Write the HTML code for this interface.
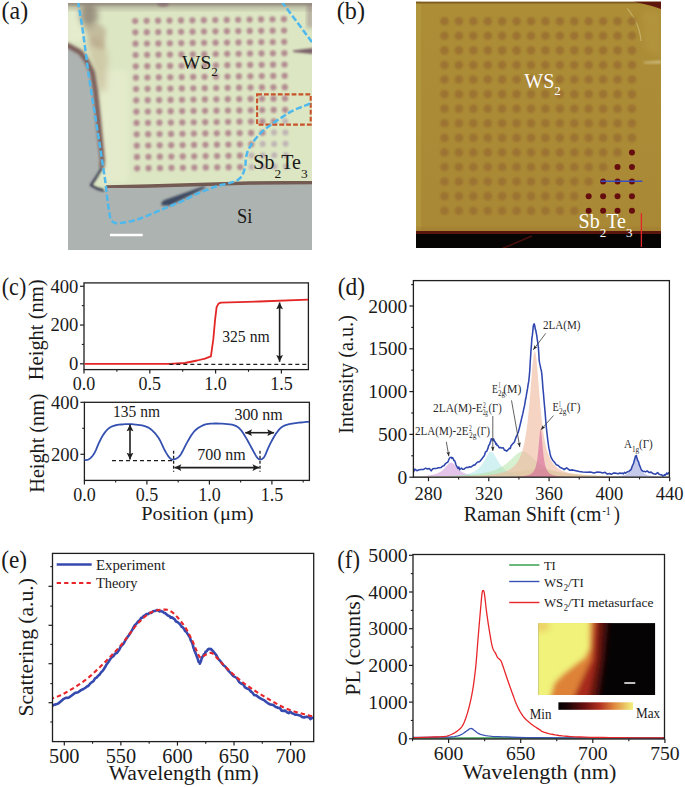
<!DOCTYPE html>
<html><head><meta charset="utf-8"><style>
html,body{margin:0;padding:0;background:#fff;}
svg{display:block;font-family:"Liberation Serif", serif;}
</style></head><body>
<svg width="685" height="787" viewBox="0 0 685 787">
<defs>
<clipPath id="clipInset"><rect x="0" y="0" width="117" height="72"/></clipPath>
<clipPath id="clipA"><rect x="68" y="3" width="244" height="247"/></clipPath>
<clipPath id="clipB"><rect x="416" y="1.5" width="245" height="246.5"/></clipPath>
<clipPath id="clipD"><rect x="413.5" y="280.6" width="256.3" height="196.7"/></clipPath>
<clipPath id="clipE"><rect x="52.6" y="553.8" width="261.1" height="187.2"/></clipPath>
<clipPath id="clipF"><rect x="412.8" y="554.3" width="251.8" height="184.7"/></clipPath>
<filter id="blur05" x="-20%" y="-20%" width="140%" height="140%"><feGaussianBlur stdDeviation="0.5"/></filter>
<filter id="blur07" x="-20%" y="-20%" width="140%" height="140%"><feGaussianBlur stdDeviation="0.7"/></filter>
<filter id="blur12" x="-20%" y="-20%" width="140%" height="140%"><feGaussianBlur stdDeviation="1.2"/></filter>
<filter id="blur1" x="-20%" y="-20%" width="140%" height="140%"><feGaussianBlur stdDeviation="1"/></filter>
<filter id="blur15" x="-20%" y="-20%" width="140%" height="140%"><feGaussianBlur stdDeviation="1.5"/></filter>
<filter id="blur2" x="-20%" y="-20%" width="140%" height="140%"><feGaussianBlur stdDeviation="2"/></filter>
<filter id="blur25" x="-30%" y="-30%" width="160%" height="160%"><feGaussianBlur stdDeviation="2.5"/></filter>
<filter id="blur3" x="-30%" y="-30%" width="160%" height="160%"><feGaussianBlur stdDeviation="3"/></filter>
<linearGradient id="insetGrad" gradientUnits="userSpaceOnUse" x1="45" y1="30" x2="82" y2="38">
<stop offset="0" stop-color="#f0ec78"/><stop offset="0.25" stop-color="#e8b050"/><stop offset="0.5" stop-color="#b83a1c"/><stop offset="0.75" stop-color="#4a0808"/><stop offset="1" stop-color="#050303"/>
</linearGradient>
<linearGradient id="bgB" x1="0" y1="0" x2="0" y2="1"><stop offset="0" stop-color="#ad8e37"/><stop offset="1" stop-color="#a98835"/></linearGradient>
<linearGradient id="cbar" x1="0" y1="0" x2="1" y2="0">
<stop offset="0" stop-color="#050202"/><stop offset="0.12" stop-color="#1a0404"/><stop offset="0.35" stop-color="#6a1010"/><stop offset="0.55" stop-color="#b03020"/><stop offset="0.75" stop-color="#e08a40"/><stop offset="1" stop-color="#f2f27e"/>
</linearGradient>
</defs>
<rect width="685" height="787" fill="#ffffff"/>
<text x="1.6" y="18.7" font-size="24.5" fill="#1a1a1a" textLength="26.6" lengthAdjust="spacingAndGlyphs">(a)</text><g clip-path="url(#clipA)"><rect x="68" y="3" width="244" height="247" fill="#adb3b0"/><path d="M60,0 L320,0 L320,182 L250,182.5 L200,184 L150,185.5 L108,186.5 L104.5,191 L98,188.5 L91.5,185 L96,177 L101.5,169 L102.2,160 L101.2,151.7 L99.2,131.4 L97.2,111 L95,90.8 L92,72.5 L86,60.3 L80,52.2 L68,45.5 L60,45Z" fill="#dce6c3" filter="url(#blur05)"/><path d="M100,70 L128,70 L128,182 L103,182 Z" fill="#e9efd2" opacity="0.6" filter="url(#blur3)"/><path d="M68,6 L80,6 L84,40 L68,42 Z" fill="#e6eed0" opacity="0.8" filter="url(#blur2)"/><path d="M86,40 L100,36 L108,55 L106,90 L99,92 L94,70 Z" fill="#c4b290" opacity="0.55" filter="url(#blur3)"/><rect x="60" y="0" width="260" height="6" fill="#8e8478" opacity="0.85" filter="url(#blur1)"/><rect x="60" y="4" width="260" height="6" fill="#a09a88" opacity="0.5" filter="url(#blur2)"/><ellipse cx="89" cy="15" rx="9" ry="12" fill="#8a7e70" opacity="0.8" filter="url(#blur3)"/><ellipse cx="163" cy="4" rx="6" ry="3" fill="#806070" opacity="0.6" filter="url(#blur1)"/><path d="M84,26 C92,22 100,22 106,30 L104,50 L92,46 Z" fill="#b09c80" opacity="0.55" filter="url(#blur2)"/><path d="M62,45 L68,45.5 L80.3,52.2 L86.4,60.3 L92.5,72.5 L95.5,90.8 L97.6,111 L99.6,131.4 L101.6,151.7 L102.4,160 L101.8,168" fill="none" stroke="#7a5c58" stroke-width="5" filter="url(#blur15)"/><path d="M106,187 L150,186 L200,184.5 L250,183 L320,182.5" fill="none" stroke="#735a52" stroke-width="3.4" filter="url(#blur07)"/><path d="M101.8,168 L96.5,177 L91,185.2 L97,188.5 L104,190.5" fill="none" stroke="#3a3c50" stroke-width="2.4" stroke-linejoin="round" filter="url(#blur1)"/><path d="M161.5,205.5 C161,202 163,200.5 166,199.5 L203,186.5 L206,187.5 L170,205.5 Z" fill="#3e4860" filter="url(#blur1)"/><path d="M293,50.5 L313,48 L313,54 L293,52 Z" fill="#6a4a5a" opacity="0.85" filter="url(#blur1)"/><rect x="307" y="4" width="6" height="24" fill="#8a7078" opacity="0.5" filter="url(#blur2)"/><g filter="url(#blur12)" fill="#985070" opacity="0.6"><circle cx="135.2" cy="21" r="3.1"/><circle cx="146.64" cy="20.86" r="3.1"/><circle cx="158.08" cy="20.72" r="3.1"/><circle cx="169.52" cy="20.58" r="3.1"/><circle cx="180.96" cy="20.44" r="3.1"/><circle cx="192.4" cy="20.3" r="3.1"/><circle cx="203.84" cy="20.16" r="3.1"/><circle cx="215.28" cy="20.02" r="3.1"/><circle cx="226.72" cy="19.88" r="3.1"/><circle cx="238.16" cy="19.74" r="3.1"/><circle cx="249.6" cy="19.6" r="3.1"/><circle cx="261.04" cy="19.46" r="3.1"/><circle cx="272.48" cy="19.32" r="3.1"/><circle cx="283.92" cy="19.18" r="3.1"/><circle cx="135.35" cy="32.33" r="3.1"/><circle cx="146.79" cy="32.19" r="3.1"/><circle cx="158.23" cy="32.05" r="3.1"/><circle cx="169.67" cy="31.91" r="3.1"/><circle cx="181.11" cy="31.77" r="3.1"/><circle cx="192.55" cy="31.63" r="3.1"/><circle cx="203.99" cy="31.49" r="3.1"/><circle cx="215.43" cy="31.35" r="3.1"/><circle cx="226.87" cy="31.21" r="3.1"/><circle cx="238.31" cy="31.07" r="3.1"/><circle cx="249.75" cy="30.93" r="3.1"/><circle cx="261.19" cy="30.79" r="3.1"/><circle cx="272.63" cy="30.65" r="3.1"/><circle cx="284.07" cy="30.51" r="3.1"/><circle cx="135.5" cy="43.66" r="3.1"/><circle cx="146.94" cy="43.52" r="3.1"/><circle cx="158.38" cy="43.38" r="3.1"/><circle cx="169.82" cy="43.24" r="3.1"/><circle cx="181.26" cy="43.1" r="3.1"/><circle cx="192.7" cy="42.96" r="3.1"/><circle cx="204.14" cy="42.82" r="3.1"/><circle cx="215.58" cy="42.68" r="3.1"/><circle cx="227.02" cy="42.54" r="3.1"/><circle cx="238.46" cy="42.4" r="3.1"/><circle cx="249.9" cy="42.26" r="3.1"/><circle cx="261.34" cy="42.12" r="3.1"/><circle cx="272.78" cy="41.98" r="3.1"/><circle cx="284.22" cy="41.84" r="3.1"/><circle cx="135.65" cy="54.99" r="3.1"/><circle cx="147.09" cy="54.85" r="3.1"/><circle cx="158.53" cy="54.71" r="3.1"/><circle cx="169.97" cy="54.57" r="3.1"/><circle cx="181.41" cy="54.43" r="3.1"/><circle cx="192.85" cy="54.29" r="3.1"/><circle cx="204.29" cy="54.15" r="3.1"/><circle cx="215.73" cy="54.01" r="3.1"/><circle cx="227.17" cy="53.87" r="3.1"/><circle cx="238.61" cy="53.73" r="3.1"/><circle cx="250.05" cy="53.59" r="3.1"/><circle cx="261.49" cy="53.45" r="3.1"/><circle cx="272.93" cy="53.31" r="3.1"/><circle cx="284.37" cy="53.17" r="3.1"/><circle cx="135.8" cy="66.32" r="3.1"/><circle cx="147.24" cy="66.18" r="3.1"/><circle cx="158.68" cy="66.04" r="3.1"/><circle cx="170.12" cy="65.9" r="3.1"/><circle cx="181.56" cy="65.76" r="3.1"/><circle cx="193" cy="65.62" r="3.1"/><circle cx="204.44" cy="65.48" r="3.1"/><circle cx="215.88" cy="65.34" r="3.1"/><circle cx="227.32" cy="65.2" r="3.1"/><circle cx="238.76" cy="65.06" r="3.1"/><circle cx="250.2" cy="64.92" r="3.1"/><circle cx="261.64" cy="64.78" r="3.1"/><circle cx="273.08" cy="64.64" r="3.1"/><circle cx="284.52" cy="64.5" r="3.1"/><circle cx="135.95" cy="77.65" r="3.1"/><circle cx="147.39" cy="77.51" r="3.1"/><circle cx="158.83" cy="77.37" r="3.1"/><circle cx="170.27" cy="77.23" r="3.1"/><circle cx="181.71" cy="77.09" r="3.1"/><circle cx="193.15" cy="76.95" r="3.1"/><circle cx="204.59" cy="76.81" r="3.1"/><circle cx="216.03" cy="76.67" r="3.1"/><circle cx="227.47" cy="76.53" r="3.1"/><circle cx="238.91" cy="76.39" r="3.1"/><circle cx="250.35" cy="76.25" r="3.1"/><circle cx="261.79" cy="76.11" r="3.1"/><circle cx="273.23" cy="75.97" r="3.1"/><circle cx="284.67" cy="75.83" r="3.1"/><circle cx="136.1" cy="88.98" r="3.1"/><circle cx="147.54" cy="88.84" r="3.1"/><circle cx="158.98" cy="88.7" r="3.1"/><circle cx="170.42" cy="88.56" r="3.1"/><circle cx="181.86" cy="88.42" r="3.1"/><circle cx="193.3" cy="88.28" r="3.1"/><circle cx="204.74" cy="88.14" r="3.1"/><circle cx="216.18" cy="88" r="3.1"/><circle cx="227.62" cy="87.86" r="3.1"/><circle cx="239.06" cy="87.72" r="3.1"/><circle cx="250.5" cy="87.58" r="3.1"/><circle cx="261.94" cy="87.44" r="3.1"/><circle cx="273.38" cy="87.3" r="3.1"/><circle cx="284.82" cy="87.16" r="3.1"/><circle cx="136.25" cy="100.31" r="3.1"/><circle cx="147.69" cy="100.17" r="3.1"/><circle cx="159.13" cy="100.03" r="3.1"/><circle cx="170.57" cy="99.89" r="3.1"/><circle cx="182.01" cy="99.75" r="3.1"/><circle cx="193.45" cy="99.61" r="3.1"/><circle cx="204.89" cy="99.47" r="3.1"/><circle cx="216.33" cy="99.33" r="3.1"/><circle cx="227.77" cy="99.19" r="3.1"/><circle cx="239.21" cy="99.05" r="3.1"/><circle cx="250.65" cy="98.91" r="3.1"/><circle cx="262.09" cy="98.77" r="3.1"/><circle cx="273.53" cy="98.63" r="3.1"/><circle cx="284.97" cy="98.49" r="3.1"/><circle cx="136.4" cy="111.64" r="3.1"/><circle cx="147.84" cy="111.5" r="3.1"/><circle cx="159.28" cy="111.36" r="3.1"/><circle cx="170.72" cy="111.22" r="3.1"/><circle cx="182.16" cy="111.08" r="3.1"/><circle cx="193.6" cy="110.94" r="3.1"/><circle cx="205.04" cy="110.8" r="3.1"/><circle cx="216.48" cy="110.66" r="3.1"/><circle cx="227.92" cy="110.52" r="3.1"/><circle cx="239.36" cy="110.38" r="3.1"/><circle cx="250.8" cy="110.24" r="3.1"/><circle cx="262.24" cy="110.1" r="3.1"/><circle cx="273.68" cy="109.96" r="3.1"/><circle cx="285.12" cy="109.82" r="3.1"/><circle cx="136.55" cy="122.97" r="3.1"/><circle cx="147.99" cy="122.83" r="3.1"/><circle cx="159.43" cy="122.69" r="3.1"/><circle cx="170.87" cy="122.55" r="3.1"/><circle cx="182.31" cy="122.41" r="3.1"/><circle cx="193.75" cy="122.27" r="3.1"/><circle cx="205.19" cy="122.13" r="3.1"/><circle cx="216.63" cy="121.99" r="3.1"/><circle cx="228.07" cy="121.85" r="3.1"/><circle cx="239.51" cy="121.71" r="3.1"/><circle cx="250.95" cy="121.57" r="3.1"/><circle cx="262.39" cy="121.43" r="3.1"/><circle cx="273.83" cy="121.29" r="3.1"/><circle cx="136.7" cy="134.3" r="3.1"/><circle cx="148.14" cy="134.16" r="3.1"/><circle cx="159.58" cy="134.02" r="3.1"/><circle cx="171.02" cy="133.88" r="3.1"/><circle cx="182.46" cy="133.74" r="3.1"/><circle cx="193.9" cy="133.6" r="3.1"/><circle cx="205.34" cy="133.46" r="3.1"/><circle cx="216.78" cy="133.32" r="3.1"/><circle cx="228.22" cy="133.18" r="3.1"/><circle cx="239.66" cy="133.04" r="3.1"/><circle cx="251.1" cy="132.9" r="3.1"/><circle cx="262.54" cy="132.76" r="3.1"/><circle cx="136.85" cy="145.63" r="3.1"/><circle cx="148.29" cy="145.49" r="3.1"/><circle cx="159.73" cy="145.35" r="3.1"/><circle cx="171.17" cy="145.21" r="3.1"/><circle cx="182.61" cy="145.07" r="3.1"/><circle cx="194.05" cy="144.93" r="3.1"/><circle cx="205.49" cy="144.79" r="3.1"/><circle cx="216.93" cy="144.65" r="3.1"/><circle cx="228.37" cy="144.51" r="3.1"/><circle cx="239.81" cy="144.37" r="3.1"/><circle cx="251.25" cy="144.23" r="3.1"/><circle cx="137" cy="156.96" r="3.1"/><circle cx="148.44" cy="156.82" r="3.1"/><circle cx="159.88" cy="156.68" r="3.1"/><circle cx="171.32" cy="156.54" r="3.1"/><circle cx="182.76" cy="156.4" r="3.1"/><circle cx="194.2" cy="156.26" r="3.1"/><circle cx="205.64" cy="156.12" r="3.1"/><circle cx="217.08" cy="155.98" r="3.1"/><circle cx="228.52" cy="155.84" r="3.1"/><circle cx="239.96" cy="155.7" r="3.1"/><circle cx="137.15" cy="168.29" r="3.1"/><circle cx="148.59" cy="168.15" r="3.1"/><circle cx="160.03" cy="168.01" r="3.1"/><circle cx="171.47" cy="167.87" r="3.1"/><circle cx="182.91" cy="167.73" r="3.1"/><circle cx="194.35" cy="167.59" r="3.1"/><circle cx="205.79" cy="167.45" r="3.1"/><circle cx="217.23" cy="167.31" r="3.1"/><circle cx="228.67" cy="167.17" r="3.1"/><circle cx="240.11" cy="167.03" r="3.1"/></g><g filter="url(#blur12)" fill="#a88aa8" opacity="0.55"><circle cx="285.27" cy="121.15" r="3.0"/><circle cx="273.98" cy="132.62" r="3.0"/><circle cx="285.42" cy="132.48" r="3.0"/><circle cx="262.69" cy="144.09" r="3.0"/><circle cx="274.13" cy="143.95" r="3.0"/><circle cx="285.57" cy="143.81" r="3.0"/><circle cx="251.4" cy="155.56" r="3.0"/><circle cx="262.84" cy="155.42" r="3.0"/><circle cx="274.28" cy="155.28" r="3.0"/><circle cx="285.72" cy="155.14" r="3.0"/><circle cx="251.55" cy="166.89" r="3.0"/><circle cx="262.99" cy="166.75" r="3.0"/><circle cx="274.43" cy="166.61" r="3.0"/><circle cx="285.87" cy="166.47" r="3.0"/></g><rect x="257.1" y="94.4" width="53.6" height="30.2" fill="none" stroke="#c8532b" stroke-width="2.1" stroke-dasharray="4.8 2.1"/><path d="M77.9,1 L78.34,3.6 L78.96,7.19 L79.68,11.44 L80.46,16.04 L81.22,20.66 L81.9,25 L82.52,29.17 L83.14,33.44 L83.74,37.75 L84.32,42 L84.87,46.11 L85.4,50 L85.89,53.68 L86.35,57.22 L86.78,60.62 L87.2,63.89 L87.6,67.01 L88,70 L88.39,72.79 L88.76,75.37 L89.11,77.81 L89.47,80.19 L89.83,82.56 L90.2,85 L90.59,87.5 L90.99,90 L91.39,92.5 L91.79,95 L92.2,97.5 L92.6,100 L93,102.5 L93.4,105 L93.81,107.5 L94.21,110 L94.61,112.5 L95,115 L95.4,117.56 L95.8,120.19 L96.19,122.81 L96.58,125.37 L96.95,127.79 L97.3,130 L97.6,131.84 L97.86,133.33 L98.11,134.69 L98.36,136.11 L98.65,137.81 L99,140 L99.44,142.84 L99.94,146.21 L100.49,149.86 L101.03,153.54 L101.55,157 L102,160 L102.38,162.5 L102.73,164.69 L103.04,166.67 L103.33,168.52 L103.61,170.33 L103.9,172.2 L104.19,174.07 L104.46,175.84 L104.73,177.59 L104.99,179.34 L105.24,181.17 L105.5,183.1 L105.75,185.17 L106,187.33 L106.24,189.56 L106.48,191.82 L106.73,194.08 L107,196.3 L107.28,198.54 L107.58,200.82 L107.88,203.11 L108.19,205.33 L108.5,207.45 L108.8,209.4 L109.09,211.21 L109.36,212.93 L109.63,214.53 L109.92,216.01 L110.24,217.34 L110.6,218.5 L111,219.47 L111.43,220.27 L111.88,220.91 L112.37,221.44 L112.91,221.9 L113.5,222.3 L114.14,222.64 L114.83,222.87 L115.56,223.03 L116.33,223.13 L117.14,223.18 L118,223.2 L118.88,223.19 L119.79,223.12 L120.73,223.01 L121.74,222.87 L122.82,222.69 L124,222.5 L125.28,222.3 L126.64,222.08 L128.09,221.84 L129.6,221.55 L131.17,221.21 L132.8,220.8 L134.48,220.32 L136.23,219.78 L138.03,219.19 L139.9,218.54 L141.82,217.84 L143.8,217.1 L145.86,216.29 L148.01,215.4 L150.21,214.46 L152.45,213.5 L154.69,212.54 L156.9,211.6 L159.1,210.68 L161.3,209.76 L163.5,208.84 L165.7,207.93 L167.9,207.01 L170.1,206.1 L172.29,205.21 L174.47,204.34 L176.66,203.47 L178.84,202.59 L181.02,201.67 L183.2,200.7 L185.41,199.64 L187.64,198.51 L189.88,197.34 L192.09,196.18 L194.24,195.09 L196.3,194.1 L198.26,193.23 L200.13,192.45 L201.94,191.73 L203.72,191.05 L205.5,190.38 L207.3,189.7 L209.12,189.01 L210.94,188.32 L212.75,187.64 L214.56,186.99 L216.38,186.37 L218.2,185.8 L220.05,185.29 L221.94,184.83 L223.84,184.41 L225.7,183.99 L227.5,183.57 L229.2,183.1 L230.83,182.62 L232.41,182.16 L233.94,181.69 L235.37,181.17 L236.7,180.58 L237.9,179.9 L238.95,179.12 L239.87,178.27 L240.69,177.35 L241.41,176.36 L242.08,175.31 L242.7,174.2 L243.27,173 L243.77,171.69 L244.21,170.32 L244.59,168.92 L244.91,167.54 L245.2,166.2 L245.41,164.91 L245.52,163.64 L245.59,162.37 L245.64,161.12 L245.73,159.86 L245.9,158.6 L246.12,157.33 L246.35,156.07 L246.62,154.8 L246.94,153.53 L247.32,152.27 L247.8,151 L248.36,149.75 L248.99,148.51 L249.68,147.28 L250.45,146.03 L251.29,144.74 L252.2,143.4 L253.19,141.98 L254.27,140.49 L255.42,138.96 L256.63,137.43 L257.89,135.93 L259.2,134.5 L260.53,133.16 L261.89,131.89 L263.29,130.64 L264.78,129.4 L266.37,128.13 L268.1,126.8 L270,125.38 L272.05,123.91 L274.21,122.4 L276.43,120.89 L278.64,119.42 L280.8,118 L282.92,116.62 L285.03,115.26 L287.15,113.92 L289.27,112.63 L291.38,111.42 L293.5,110.3 L295.68,109.28 L297.95,108.34 L300.22,107.47 L302.4,106.66 L304.42,105.91 L306.2,105.2 L307.75,104.52 L309.16,103.87 L310.39,103.28 L311.46,102.76 L312.33,102.33 L313,102" fill="none" stroke="#4fb8ec" stroke-width="2.5" stroke-dasharray="6.3 2.6"/><path d="M281.5,1.5 L297,22 L313,43.5" fill="none" stroke="#4fb8ec" stroke-width="2.5" stroke-dasharray="6.3 2.6"/><line x1="109.9" y1="235" x2="142.7" y2="235" stroke="#ffffff" stroke-width="2.4" /></g><text x="182" y="69.1" font-size="19.5" fill="#1a1a1a"><tspan dy="0">WS</tspan><tspan dy="6.5" font-size="13">2</tspan></text><text x="253.3" y="169.4" font-size="20" fill="#1a1a1a"><tspan dy="0">Sb</tspan><tspan dy="8.4" font-size="13.5">2</tspan><tspan dy="-8.4">Te</tspan><tspan dy="8.4" font-size="13.5">3</tspan></text><text x="237" y="223.1" font-size="20" fill="#1a1a1a" textLength="15.4" lengthAdjust="spacingAndGlyphs">Si</text><text x="336.8" y="18.9" font-size="24.5" fill="#1a1a1a" textLength="28.2" lengthAdjust="spacingAndGlyphs">(b)</text><g clip-path="url(#clipB)"><rect x="416" y="1.5" width="245" height="246.5" fill="url(#bgB)"/><rect x="416" y="1.5" width="5" height="246.5" fill="#b29a40" opacity="0.7"/><rect x="416" y="1.5" width="245" height="2" fill="#7d5a22"/><path d="M634,1.5 L661,1.5 L661,9 L652,6 L642,3.5 Z" fill="#5e1410" filter="url(#blur05)"/><path d="M627.5,8.5 C633,16 640,26 641,41" fill="none" stroke="#e0d8a0" stroke-width="1.1" opacity="0.5" filter="url(#blur05)"/><path d="M643,62 L661,60.5 L661,63.5 L645,63.5 Z" fill="#e8e0b8" opacity="0.55" filter="url(#blur1)"/><path d="M642,10 L661,12 L661,58 L645,50 Z" fill="#bca048" opacity="0.35" filter="url(#blur3)"/><g filter="url(#blur1)" fill="#9c7331"><circle cx="444.5" cy="21.2" r="4.3"/><circle cx="458.92" cy="21.2" r="4.3"/><circle cx="473.34" cy="21.2" r="4.3"/><circle cx="487.76" cy="21.2" r="4.3"/><circle cx="502.18" cy="21.2" r="4.3"/><circle cx="516.6" cy="21.2" r="4.3"/><circle cx="531.02" cy="21.2" r="4.3"/><circle cx="545.44" cy="21.2" r="4.3"/><circle cx="559.86" cy="21.2" r="4.3"/><circle cx="574.28" cy="21.2" r="4.3"/><circle cx="588.7" cy="21.2" r="4.3"/><circle cx="603.12" cy="21.2" r="4.3"/><circle cx="617.54" cy="21.2" r="4.3"/><circle cx="631.96" cy="21.2" r="4.3"/><circle cx="444.5" cy="35.78" r="4.3"/><circle cx="458.92" cy="35.78" r="4.3"/><circle cx="473.34" cy="35.78" r="4.3"/><circle cx="487.76" cy="35.78" r="4.3"/><circle cx="502.18" cy="35.78" r="4.3"/><circle cx="516.6" cy="35.78" r="4.3"/><circle cx="531.02" cy="35.78" r="4.3"/><circle cx="545.44" cy="35.78" r="4.3"/><circle cx="559.86" cy="35.78" r="4.3"/><circle cx="574.28" cy="35.78" r="4.3"/><circle cx="588.7" cy="35.78" r="4.3"/><circle cx="603.12" cy="35.78" r="4.3"/><circle cx="617.54" cy="35.78" r="4.3"/><circle cx="631.96" cy="35.78" r="4.3"/><circle cx="444.5" cy="50.36" r="4.3"/><circle cx="458.92" cy="50.36" r="4.3"/><circle cx="473.34" cy="50.36" r="4.3"/><circle cx="487.76" cy="50.36" r="4.3"/><circle cx="502.18" cy="50.36" r="4.3"/><circle cx="516.6" cy="50.36" r="4.3"/><circle cx="531.02" cy="50.36" r="4.3"/><circle cx="545.44" cy="50.36" r="4.3"/><circle cx="559.86" cy="50.36" r="4.3"/><circle cx="574.28" cy="50.36" r="4.3"/><circle cx="588.7" cy="50.36" r="4.3"/><circle cx="603.12" cy="50.36" r="4.3"/><circle cx="617.54" cy="50.36" r="4.3"/><circle cx="631.96" cy="50.36" r="4.3"/><circle cx="444.5" cy="64.94" r="4.3"/><circle cx="458.92" cy="64.94" r="4.3"/><circle cx="473.34" cy="64.94" r="4.3"/><circle cx="487.76" cy="64.94" r="4.3"/><circle cx="502.18" cy="64.94" r="4.3"/><circle cx="516.6" cy="64.94" r="4.3"/><circle cx="531.02" cy="64.94" r="4.3"/><circle cx="545.44" cy="64.94" r="4.3"/><circle cx="559.86" cy="64.94" r="4.3"/><circle cx="574.28" cy="64.94" r="4.3"/><circle cx="588.7" cy="64.94" r="4.3"/><circle cx="603.12" cy="64.94" r="4.3"/><circle cx="617.54" cy="64.94" r="4.3"/><circle cx="631.96" cy="64.94" r="4.3"/><circle cx="444.5" cy="79.52" r="4.3"/><circle cx="458.92" cy="79.52" r="4.3"/><circle cx="473.34" cy="79.52" r="4.3"/><circle cx="487.76" cy="79.52" r="4.3"/><circle cx="502.18" cy="79.52" r="4.3"/><circle cx="516.6" cy="79.52" r="4.3"/><circle cx="531.02" cy="79.52" r="4.3"/><circle cx="545.44" cy="79.52" r="4.3"/><circle cx="559.86" cy="79.52" r="4.3"/><circle cx="574.28" cy="79.52" r="4.3"/><circle cx="588.7" cy="79.52" r="4.3"/><circle cx="603.12" cy="79.52" r="4.3"/><circle cx="617.54" cy="79.52" r="4.3"/><circle cx="631.96" cy="79.52" r="4.3"/><circle cx="444.5" cy="94.1" r="4.3"/><circle cx="458.92" cy="94.1" r="4.3"/><circle cx="473.34" cy="94.1" r="4.3"/><circle cx="487.76" cy="94.1" r="4.3"/><circle cx="502.18" cy="94.1" r="4.3"/><circle cx="516.6" cy="94.1" r="4.3"/><circle cx="531.02" cy="94.1" r="4.3"/><circle cx="545.44" cy="94.1" r="4.3"/><circle cx="559.86" cy="94.1" r="4.3"/><circle cx="574.28" cy="94.1" r="4.3"/><circle cx="588.7" cy="94.1" r="4.3"/><circle cx="603.12" cy="94.1" r="4.3"/><circle cx="617.54" cy="94.1" r="4.3"/><circle cx="631.96" cy="94.1" r="4.3"/><circle cx="444.5" cy="108.68" r="4.3"/><circle cx="458.92" cy="108.68" r="4.3"/><circle cx="473.34" cy="108.68" r="4.3"/><circle cx="487.76" cy="108.68" r="4.3"/><circle cx="502.18" cy="108.68" r="4.3"/><circle cx="516.6" cy="108.68" r="4.3"/><circle cx="531.02" cy="108.68" r="4.3"/><circle cx="545.44" cy="108.68" r="4.3"/><circle cx="559.86" cy="108.68" r="4.3"/><circle cx="574.28" cy="108.68" r="4.3"/><circle cx="588.7" cy="108.68" r="4.3"/><circle cx="603.12" cy="108.68" r="4.3"/><circle cx="617.54" cy="108.68" r="4.3"/><circle cx="631.96" cy="108.68" r="4.3"/><circle cx="444.5" cy="123.26" r="4.3"/><circle cx="458.92" cy="123.26" r="4.3"/><circle cx="473.34" cy="123.26" r="4.3"/><circle cx="487.76" cy="123.26" r="4.3"/><circle cx="502.18" cy="123.26" r="4.3"/><circle cx="516.6" cy="123.26" r="4.3"/><circle cx="531.02" cy="123.26" r="4.3"/><circle cx="545.44" cy="123.26" r="4.3"/><circle cx="559.86" cy="123.26" r="4.3"/><circle cx="574.28" cy="123.26" r="4.3"/><circle cx="588.7" cy="123.26" r="4.3"/><circle cx="603.12" cy="123.26" r="4.3"/><circle cx="617.54" cy="123.26" r="4.3"/><circle cx="631.96" cy="123.26" r="4.3"/><circle cx="444.5" cy="137.84" r="4.3"/><circle cx="458.92" cy="137.84" r="4.3"/><circle cx="473.34" cy="137.84" r="4.3"/><circle cx="487.76" cy="137.84" r="4.3"/><circle cx="502.18" cy="137.84" r="4.3"/><circle cx="516.6" cy="137.84" r="4.3"/><circle cx="531.02" cy="137.84" r="4.3"/><circle cx="545.44" cy="137.84" r="4.3"/><circle cx="559.86" cy="137.84" r="4.3"/><circle cx="574.28" cy="137.84" r="4.3"/><circle cx="588.7" cy="137.84" r="4.3"/><circle cx="603.12" cy="137.84" r="4.3"/><circle cx="617.54" cy="137.84" r="4.3"/><circle cx="631.96" cy="137.84" r="4.3"/><circle cx="444.5" cy="152.42" r="4.3"/><circle cx="458.92" cy="152.42" r="4.3"/><circle cx="473.34" cy="152.42" r="4.3"/><circle cx="487.76" cy="152.42" r="4.3"/><circle cx="502.18" cy="152.42" r="4.3"/><circle cx="516.6" cy="152.42" r="4.3"/><circle cx="531.02" cy="152.42" r="4.3"/><circle cx="545.44" cy="152.42" r="4.3"/><circle cx="559.86" cy="152.42" r="4.3"/><circle cx="574.28" cy="152.42" r="4.3"/><circle cx="588.7" cy="152.42" r="4.3"/><circle cx="603.12" cy="152.42" r="4.3"/><circle cx="617.54" cy="152.42" r="4.3"/><circle cx="444.5" cy="167" r="4.3"/><circle cx="458.92" cy="167" r="4.3"/><circle cx="473.34" cy="167" r="4.3"/><circle cx="487.76" cy="167" r="4.3"/><circle cx="502.18" cy="167" r="4.3"/><circle cx="516.6" cy="167" r="4.3"/><circle cx="531.02" cy="167" r="4.3"/><circle cx="545.44" cy="167" r="4.3"/><circle cx="559.86" cy="167" r="4.3"/><circle cx="574.28" cy="167" r="4.3"/><circle cx="588.7" cy="167" r="4.3"/><circle cx="603.12" cy="167" r="4.3"/><circle cx="444.5" cy="181.58" r="4.3"/><circle cx="458.92" cy="181.58" r="4.3"/><circle cx="473.34" cy="181.58" r="4.3"/><circle cx="487.76" cy="181.58" r="4.3"/><circle cx="502.18" cy="181.58" r="4.3"/><circle cx="516.6" cy="181.58" r="4.3"/><circle cx="531.02" cy="181.58" r="4.3"/><circle cx="545.44" cy="181.58" r="4.3"/><circle cx="559.86" cy="181.58" r="4.3"/><circle cx="574.28" cy="181.58" r="4.3"/><circle cx="588.7" cy="181.58" r="4.3"/><circle cx="444.5" cy="196.16" r="4.3"/><circle cx="458.92" cy="196.16" r="4.3"/><circle cx="473.34" cy="196.16" r="4.3"/><circle cx="487.76" cy="196.16" r="4.3"/><circle cx="502.18" cy="196.16" r="4.3"/><circle cx="516.6" cy="196.16" r="4.3"/><circle cx="531.02" cy="196.16" r="4.3"/><circle cx="545.44" cy="196.16" r="4.3"/><circle cx="559.86" cy="196.16" r="4.3"/><circle cx="574.28" cy="196.16" r="4.3"/><circle cx="444.5" cy="210.74" r="4.3"/><circle cx="458.92" cy="210.74" r="4.3"/><circle cx="473.34" cy="210.74" r="4.3"/><circle cx="487.76" cy="210.74" r="4.3"/><circle cx="502.18" cy="210.74" r="4.3"/><circle cx="516.6" cy="210.74" r="4.3"/><circle cx="531.02" cy="210.74" r="4.3"/><circle cx="545.44" cy="210.74" r="4.3"/><circle cx="559.86" cy="210.74" r="4.3"/><circle cx="574.28" cy="210.74" r="4.3"/></g><g filter="url(#blur07)" fill="#661010"><circle cx="631.96" cy="152.42" r="3.0"/><circle cx="617.54" cy="167" r="3.0"/><circle cx="631.96" cy="167" r="3.0"/><circle cx="603.12" cy="181.58" r="3.0"/><circle cx="617.54" cy="181.58" r="3.0"/><circle cx="631.96" cy="181.58" r="3.0"/><circle cx="588.7" cy="196.16" r="3.0"/><circle cx="603.12" cy="196.16" r="3.0"/><circle cx="617.54" cy="196.16" r="3.0"/><circle cx="631.96" cy="196.16" r="3.0"/><circle cx="588.7" cy="210.74" r="3.0"/><circle cx="603.12" cy="210.74" r="3.0"/><circle cx="617.54" cy="210.74" r="3.0"/><circle cx="631.96" cy="210.74" r="3.0"/></g><rect x="416" y="227" width="245" height="5" fill="#a07a30" opacity="0.5" filter="url(#blur1)"/><rect x="416" y="233" width="245" height="16" fill="#070504"/><rect x="416" y="231" width="245" height="3" fill="#5a160c" filter="url(#blur05)"/><path d="M501,249 L532,236" stroke="#7a1812" stroke-width="1.4" opacity="0.6" filter="url(#blur05)"/><line x1="641.4" y1="213.2" x2="641.4" y2="247" stroke="#e02828" stroke-width="1.3" /><line x1="600.7" y1="181.3" x2="642.4" y2="181.3" stroke="#3a4fc0" stroke-width="1.5" /></g><text x="524.3" y="87.6" font-size="20" fill="#ffffff"><tspan dy="0">WS</tspan><tspan dy="7.4" font-size="13">2</tspan></text><text x="578.6" y="228.4" font-size="20" fill="#ffffff"><tspan dy="0">Sb</tspan><tspan dy="8.2" font-size="13">2</tspan><tspan dy="-8.2">Te</tspan><tspan dy="8.2" font-size="13">3</tspan></text><text x="1.75" y="294.8" font-size="24.5" fill="#1a1a1a" textLength="24.55" lengthAdjust="spacingAndGlyphs">(c)</text><rect x="84" y="282.9" width="224.4" height="86.7" fill="none" stroke="#1f1f1f" stroke-width="1.3"/><line x1="84" y1="369.6" x2="84" y2="373.6" stroke="#1f1f1f" stroke-width="1.2" /><text x="84" y="390.3" font-size="18" text-anchor="middle" fill="#1a1a1a" >0.0</text><line x1="149.8" y1="369.6" x2="149.8" y2="373.6" stroke="#1f1f1f" stroke-width="1.2" /><text x="149.8" y="390.3" font-size="18" text-anchor="middle" fill="#1a1a1a" >0.5</text><line x1="215.6" y1="369.6" x2="215.6" y2="373.6" stroke="#1f1f1f" stroke-width="1.2" /><text x="215.6" y="390.3" font-size="18" text-anchor="middle" fill="#1a1a1a" >1.0</text><line x1="281.4" y1="369.6" x2="281.4" y2="373.6" stroke="#1f1f1f" stroke-width="1.2" /><text x="281.4" y="390.3" font-size="18" text-anchor="middle" fill="#1a1a1a" >1.5</text><line x1="116.9" y1="369.6" x2="116.9" y2="371.8" stroke="#1f1f1f" stroke-width="1.1" /><line x1="182.7" y1="369.6" x2="182.7" y2="371.8" stroke="#1f1f1f" stroke-width="1.1" /><line x1="248.5" y1="369.6" x2="248.5" y2="371.8" stroke="#1f1f1f" stroke-width="1.1" /><line x1="80" y1="363.8" x2="84" y2="363.8" stroke="#1f1f1f" stroke-width="1.2" /><text x="78.4" y="370.1" font-size="18.6" text-anchor="end" fill="#1a1a1a" >0</text><line x1="80" y1="325.04" x2="84" y2="325.04" stroke="#1f1f1f" stroke-width="1.2" /><text x="78.4" y="331.34" font-size="18.6" text-anchor="end" fill="#1a1a1a" >200</text><line x1="80" y1="286.28" x2="84" y2="286.28" stroke="#1f1f1f" stroke-width="1.2" /><text x="78.4" y="292.58" font-size="18.6" text-anchor="end" fill="#1a1a1a" >400</text><line x1="81.8" y1="344.42" x2="84" y2="344.42" stroke="#1f1f1f" stroke-width="1.1" /><line x1="81.8" y1="305.66" x2="84" y2="305.66" stroke="#1f1f1f" stroke-width="1.1" /><text x="0" y="0" font-size="20" fill="#1a1a1a" textLength="100.69" lengthAdjust="spacingAndGlyphs" transform="translate(43,380.2) rotate(-90)">Height (nm)</text><path d="M84.6,363.9 L140,363.9 L169.9,363.8 L184.8,363 L197.2,360.5 L205,358.6 L210.9,356.3 L213.3,339.4 L215.1,319.6 L216.6,307.2 L218.5,303.6 L220.8,302.7 L259.3,301.5 L308,299.7" fill="none" stroke="#e32626" stroke-width="1.8" stroke-linejoin="round"/><line x1="169.3" y1="364.3" x2="306.4" y2="364.3" stroke="#1f1f1f" stroke-width="1.3" stroke-dasharray="4 3"/><line x1="279.6" y1="302.5" x2="279.6" y2="361.8" stroke="#1f1f1f" stroke-width="1.6" /><path d="M279.6,361.8 L276.2,355 L279.6,356.36 L283,355 Z" fill="#1f1f1f"/><path d="M279.6,302.5 L283,309.3 L279.6,307.94 L276.2,309.3 Z" fill="#1f1f1f"/><text x="222.2" y="341.7" font-size="17" fill="#1a1a1a" textLength="47.5" lengthAdjust="spacingAndGlyphs">325 nm</text><rect x="84.4" y="402.3" width="225" height="78.1" fill="none" stroke="#1f1f1f" stroke-width="1.3"/><line x1="84.4" y1="480.4" x2="84.4" y2="484.4" stroke="#1f1f1f" stroke-width="1.2" /><text x="84.4" y="501" font-size="18" text-anchor="middle" fill="#1a1a1a" >0.0</text><line x1="146.9" y1="480.4" x2="146.9" y2="484.4" stroke="#1f1f1f" stroke-width="1.2" /><text x="146.9" y="501" font-size="18" text-anchor="middle" fill="#1a1a1a" >0.5</text><line x1="209.4" y1="480.4" x2="209.4" y2="484.4" stroke="#1f1f1f" stroke-width="1.2" /><text x="209.4" y="501" font-size="18" text-anchor="middle" fill="#1a1a1a" >1.0</text><line x1="271.9" y1="480.4" x2="271.9" y2="484.4" stroke="#1f1f1f" stroke-width="1.2" /><text x="271.9" y="501" font-size="18" text-anchor="middle" fill="#1a1a1a" >1.5</text><line x1="115.65" y1="480.4" x2="115.65" y2="482.6" stroke="#1f1f1f" stroke-width="1.1" /><line x1="178.15" y1="480.4" x2="178.15" y2="482.6" stroke="#1f1f1f" stroke-width="1.1" /><line x1="240.65" y1="480.4" x2="240.65" y2="482.6" stroke="#1f1f1f" stroke-width="1.1" /><line x1="303.15" y1="480.4" x2="303.15" y2="482.6" stroke="#1f1f1f" stroke-width="1.1" /><line x1="80.4" y1="454.3" x2="84.4" y2="454.3" stroke="#1f1f1f" stroke-width="1.2" /><text x="78.8" y="460.6" font-size="18.6" text-anchor="end" fill="#1a1a1a" >200</text><line x1="80.4" y1="402.3" x2="84.4" y2="402.3" stroke="#1f1f1f" stroke-width="1.2" /><text x="78.8" y="408.6" font-size="18.6" text-anchor="end" fill="#1a1a1a" >400</text><line x1="82.2" y1="428.3" x2="84.4" y2="428.3" stroke="#1f1f1f" stroke-width="1.1" /><text x="0" y="0" font-size="20" fill="#1a1a1a" textLength="99.29" lengthAdjust="spacingAndGlyphs" transform="translate(43.5,492.7) rotate(-90)">Height (nm)</text><path d="M84.4,460.2 L84.93,460.12 L85.67,460.06 L86.54,459.96 L87.48,459.79 L88.42,459.48 L89.3,459 L90.13,458.36 L90.96,457.6 L91.79,456.72 L92.63,455.7 L93.47,454.53 L94.3,453.2 L95.13,451.63 L95.97,449.8 L96.81,447.83 L97.64,445.82 L98.47,443.87 L99.3,442.1 L100.11,440.48 L100.89,438.93 L101.67,437.44 L102.47,436.03 L103.31,434.68 L104.2,433.4 L105.13,432.18 L106.08,431.01 L107.06,429.91 L108.1,428.9 L109.21,427.99 L110.4,427.2 L111.66,426.55 L112.98,426.02 L114.36,425.59 L115.83,425.25 L117.41,424.96 L119.1,424.7 L120.95,424.48 L122.96,424.3 L125.07,424.19 L127.23,424.13 L129.39,424.13 L131.5,424.2 L133.62,424.33 L135.81,424.53 L138.01,424.78 L140.13,425.1 L142.12,425.47 L143.9,425.9 L145.43,426.36 L146.77,426.83 L147.96,427.37 L149.09,428 L150.21,428.76 L151.4,429.7 L152.65,430.81 L153.92,432.07 L155.18,433.46 L156.43,434.97 L157.64,436.59 L158.8,438.3 L159.92,440.22 L161,442.37 L162.05,444.63 L163.07,446.87 L164.05,448.97 L165,450.8 L165.92,452.4 L166.81,453.87 L167.66,455.21 L168.48,456.38 L169.26,457.38 L170,458.2 L170.65,458.82 L171.2,459.24 L171.72,459.49 L172.25,459.59 L172.86,459.56 L173.6,459.4 L174.48,459.18 L175.46,458.9 L176.51,458.47 L177.62,457.85 L178.76,456.95 L179.9,455.7 L181.07,453.98 L182.29,451.81 L183.53,449.37 L184.79,446.82 L186.05,444.34 L187.3,442.1 L188.5,440.04 L189.67,438 L190.84,436.04 L192.04,434.17 L193.32,432.45 L194.7,430.9 L196.19,429.52 L197.75,428.28 L199.39,427.17 L201.09,426.21 L202.86,425.39 L204.7,424.7 L206.6,424.18 L208.56,423.84 L210.59,423.64 L212.69,423.54 L214.86,423.5 L217.1,423.5 L219.53,423.53 L222.16,423.63 L224.86,423.79 L227.5,424.03 L229.92,424.33 L232,424.7 L233.68,425.11 L235.07,425.56 L236.24,426.08 L237.3,426.7 L238.32,427.47 L239.4,428.4 L240.5,429.53 L241.56,430.84 L242.58,432.28 L243.58,433.83 L244.58,435.45 L245.6,437.1 L246.65,438.85 L247.71,440.74 L248.77,442.7 L249.82,444.66 L250.84,446.55 L251.8,448.3 L252.72,449.97 L253.62,451.62 L254.49,453.2 L255.31,454.66 L256.08,455.94 L256.8,457 L257.43,457.82 L257.96,458.44 L258.45,458.89 L258.93,459.19 L259.43,459.35 L260,459.4 L260.63,459.38 L261.3,459.28 L261.99,459.05 L262.7,458.63 L263.44,457.96 L264.2,457 L264.97,455.64 L265.76,453.92 L266.57,451.95 L267.41,449.86 L268.29,447.77 L269.2,445.8 L270.16,443.89 L271.18,441.93 L272.22,439.96 L273.29,438.05 L274.35,436.25 L275.4,434.6 L276.42,433.1 L277.42,431.69 L278.43,430.39 L279.44,429.2 L280.5,428.13 L281.6,427.2 L282.73,426.43 L283.88,425.82 L285.06,425.33 L286.3,424.93 L287.6,424.56 L289,424.2 L290.52,423.86 L292.14,423.57 L293.84,423.32 L295.57,423.11 L297.3,422.9 L299,422.7 L300.78,422.49 L302.7,422.29 L304.62,422.11 L306.41,421.94 L307.91,421.8 L309,421.7" fill="none" stroke="#3450b0" stroke-width="1.8"/><text x="113" y="417" font-size="17" fill="#1a1a1a" textLength="47" lengthAdjust="spacingAndGlyphs">135 nm</text><line x1="130" y1="424.5" x2="130" y2="459.5" stroke="#1f1f1f" stroke-width="1.6" /><path d="M130,459.5 L126.6,452.7 L130,454.06 L133.4,452.7 Z" fill="#1f1f1f"/><path d="M130,424.5 L133.4,431.3 L130,429.94 L126.6,431.3 Z" fill="#1f1f1f"/><line x1="112" y1="460.7" x2="173" y2="460.7" stroke="#1f1f1f" stroke-width="1.3" stroke-dasharray="4 3"/><text x="234.4" y="419.7" font-size="17" fill="#1a1a1a" textLength="48.4" lengthAdjust="spacingAndGlyphs">300 nm</text><line x1="245.2" y1="432.7" x2="274.1" y2="432.7" stroke="#1f1f1f" stroke-width="1.6" /><path d="M274.1,432.7 L267.3,436.1 L268.66,432.7 L267.3,429.3 Z" fill="#1f1f1f"/><path d="M245.2,432.7 L252,429.3 L250.64,432.7 L252,436.1 Z" fill="#1f1f1f"/><text x="197.2" y="460" font-size="17" fill="#1a1a1a" textLength="48.4" lengthAdjust="spacingAndGlyphs">700 nm</text><line x1="174.5" y1="467.6" x2="259.3" y2="467.6" stroke="#1f1f1f" stroke-width="1.6" /><path d="M259.3,467.6 L252.5,471 L253.86,467.6 L252.5,464.2 Z" fill="#1f1f1f"/><path d="M174.5,467.6 L181.3,464.2 L179.94,467.6 L181.3,471 Z" fill="#1f1f1f"/><line x1="173.6" y1="450.8" x2="173.6" y2="471.8" stroke="#1f1f1f" stroke-width="1.3" stroke-dasharray="3 2"/><line x1="260" y1="450.8" x2="260" y2="471.8" stroke="#1f1f1f" stroke-width="1.3" stroke-dasharray="3 2"/><text x="141.2" y="519.7" font-size="19.5" fill="#1a1a1a" textLength="112.4" lengthAdjust="spacingAndGlyphs">Position (μm)</text><text x="337.7" y="295.4" font-size="24.5" fill="#1a1a1a" textLength="27.3" lengthAdjust="spacingAndGlyphs">(d)</text><g clip-path="url(#clipD)"><path d="M413.4,476.7 L413.77,476.7 L414.13,476.69 L414.5,476.69 L414.87,476.69 L415.23,476.69 L415.6,476.68 L415.97,476.68 L416.33,476.68 L416.7,476.67 L417.07,476.67 L417.43,476.67 L417.8,476.66 L418.17,476.66 L418.53,476.66 L418.9,476.65 L419.27,476.65 L419.63,476.65 L420,476.65 L420.37,476.64 L420.73,476.64 L421.1,476.64 L421.47,476.63 L421.83,476.63 L422.2,476.63 L422.57,476.62 L422.93,476.62 L423.3,476.62 L423.67,476.61 L424.03,476.61 L424.4,476.6 L424.77,476.6 L425.13,476.6 L425.5,476.59 L425.87,476.59 L426.23,476.59 L426.6,476.58 L426.97,476.58 L427.33,476.57 L427.7,476.57 L428.07,476.57 L428.43,476.56 L428.8,476.56 L429.17,476.55 L429.53,476.55 L429.9,476.55 L430.27,476.54 L430.63,476.54 L431,476.53 L431.37,476.53 L431.73,476.53 L432.1,476.52 L432.47,476.52 L432.83,476.51 L433.2,476.51 L433.57,476.5 L433.93,476.5 L434.3,476.49 L434.67,476.49 L435.03,476.49 L435.4,476.48 L435.77,476.48 L436.13,476.47 L436.5,476.47 L436.87,476.46 L437.23,476.46 L437.6,476.45 L437.97,476.45 L438.33,476.44 L438.7,476.44 L439.07,476.43 L439.43,476.43 L439.8,476.42 L440.17,476.42 L440.53,476.41 L440.9,476.4 L441.27,476.4 L441.63,476.39 L442,476.39 L442.37,476.38 L442.73,476.38 L443.1,476.37 L443.47,476.36 L443.83,476.36 L444.2,476.35 L444.57,476.35 L444.93,476.34 L445.3,476.33 L445.67,476.33 L446.03,476.32 L446.4,476.32 L446.77,476.31 L447.13,476.3 L447.5,476.3 L447.87,476.29 L448.23,476.28 L448.6,476.28 L448.97,476.27 L449.33,476.26 L449.7,476.26 L450.07,476.25 L450.43,476.24 L450.8,476.23 L451.17,476.23 L451.53,476.22 L451.9,476.21 L452.27,476.2 L452.63,476.2 L453,476.19 L453.37,476.18 L453.73,476.17 L454.1,476.17 L454.47,476.16 L454.83,476.15 L455.2,476.14 L455.57,476.13 L455.93,476.12 L456.3,476.12 L456.67,476.11 L457.03,476.1 L457.4,476.09 L457.77,476.08 L458.13,476.07 L458.5,476.06 L458.87,476.05 L459.23,476.04 L459.6,476.04 L459.97,476.03 L460.33,476.02 L460.7,476.01 L461.07,476 L461.43,475.99 L461.8,475.98 L462.17,475.97 L462.53,475.96 L462.9,475.95 L463.27,475.93 L463.63,475.92 L464,475.91 L464.37,475.9 L464.73,475.89 L465.1,475.88 L465.47,475.87 L465.83,475.86 L466.2,475.85 L466.57,475.83 L466.93,475.82 L467.3,475.81 L467.66,475.8 L468.03,475.79 L468.4,475.77 L468.76,475.76 L469.13,475.75 L469.5,475.73 L469.86,475.72 L470.23,475.71 L470.6,475.69 L470.96,475.68 L471.33,475.67 L471.7,475.65 L472.06,475.64 L472.43,475.62 L472.8,475.61 L473.16,475.6 L473.53,475.58 L473.9,475.57 L474.26,475.55 L474.63,475.53 L475,475.52 L475.36,475.5 L475.73,475.49 L476.1,475.47 L476.46,475.45 L476.83,475.44 L477.2,475.42 L477.56,475.4 L477.93,475.39 L478.3,475.37 L478.66,475.35 L479.03,475.33 L479.4,475.31 L479.76,475.3 L480.13,475.28 L480.5,475.26 L480.86,475.24 L481.23,475.22 L481.6,475.2 L481.96,475.18 L482.33,475.16 L482.7,475.14 L483.06,475.12 L483.43,475.1 L483.8,475.07 L484.16,475.05 L484.53,475.03 L484.9,475.01 L485.26,474.99 L485.63,474.96 L486,474.94 L486.36,474.92 L486.73,474.89 L487.1,474.87 L487.46,474.84 L487.83,474.82 L488.2,474.79 L488.56,474.77 L488.93,474.74 L489.3,474.71 L489.66,474.69 L490.03,474.66 L490.4,474.63 L490.76,474.61 L491.13,474.58 L491.5,474.55 L491.86,474.52 L492.23,474.49 L492.6,474.46 L492.96,474.43 L493.33,474.4 L493.7,474.37 L494.06,474.34 L494.43,474.31 L494.8,474.27 L495.16,474.24 L495.53,474.21 L495.9,474.17 L496.26,474.14 L496.63,474.11 L497,474.07 L497.36,474.03 L497.73,474 L498.1,473.96 L498.46,473.93 L498.83,473.89 L499.2,473.85 L499.56,473.81 L499.93,473.77 L500.3,473.73 L500.66,473.69 L501.03,473.65 L501.4,473.61 L501.76,473.57 L502.13,473.53 L502.5,473.49 L502.86,473.44 L503.23,473.4 L503.6,473.35 L503.96,473.31 L504.33,473.26 L504.7,473.22 L505.06,473.17 L505.43,473.13 L505.8,473.08 L506.16,473.03 L506.53,472.98 L506.9,472.93 L507.26,472.88 L507.63,472.83 L508,472.78 L508.36,472.73 L508.73,472.68 L509.1,472.63 L509.46,472.57 L509.83,472.52 L510.2,472.47 L510.56,472.41 L510.93,472.36 L511.3,472.3 L511.66,472.25 L512.03,472.19 L512.4,472.13 L512.76,472.08 L513.13,472.02 L513.5,471.96 L513.86,471.9 L514.23,471.84 L514.6,471.79 L514.96,471.73 L515.33,471.67 L515.7,471.61 L516.06,471.55 L516.43,471.49 L516.8,471.43 L517.16,471.36 L517.53,471.3 L517.9,471.24 L518.26,471.18 L518.63,471.12 L519,471.06 L519.36,471 L519.73,470.94 L520.1,470.88 L520.46,470.81 L520.83,470.75 L521.2,470.69 L521.56,470.63 L521.93,470.57 L522.3,470.51 L522.66,470.46 L523.03,470.4 L523.4,470.34 L523.76,470.28 L524.13,470.22 L524.5,470.17 L524.86,470.11 L525.23,470.06 L525.6,470.01 L525.96,469.95 L526.33,469.9 L526.7,469.85 L527.06,469.8 L527.43,469.75 L527.8,469.7 L528.16,469.66 L528.53,469.61 L528.9,469.57 L529.26,469.53 L529.63,469.49 L530,469.45 L530.36,469.41 L530.73,469.38 L531.1,469.34 L531.46,469.31 L531.83,469.28 L532.2,469.25 L532.56,469.23 L532.93,469.2 L533.3,469.18 L533.66,469.16 L534.03,469.14 L534.4,469.12 L534.76,469.11 L535.13,469.1 L535.5,469.09 L535.86,469.08 L536.23,469.07 L536.6,469.07 L536.96,469.07 L537.33,469.07 L537.7,469.07 L538.06,469.08 L538.43,469.08 L538.8,469.09 L539.16,469.1 L539.53,469.12 L539.9,469.13 L540.26,469.15 L540.63,469.17 L541,469.19 L541.36,469.22 L541.73,469.24 L542.1,469.27 L542.46,469.3 L542.83,469.33 L543.2,469.37 L543.56,469.4 L543.93,469.44 L544.3,469.48 L544.66,469.52 L545.03,469.56 L545.4,469.6 L545.76,469.64 L546.13,469.69 L546.5,469.74 L546.86,469.78 L547.23,469.83 L547.6,469.88 L547.96,469.94 L548.33,469.99 L548.7,470.04 L549.06,470.1 L549.43,470.15 L549.8,470.21 L550.16,470.26 L550.53,470.32 L550.9,470.38 L551.26,470.44 L551.63,470.5 L552,470.55 L552.36,470.61 L552.73,470.67 L553.1,470.73 L553.46,470.79 L553.83,470.86 L554.2,470.92 L554.56,470.98 L554.93,471.04 L555.3,471.1 L555.66,471.16 L556.03,471.22 L556.4,471.28 L556.76,471.34 L557.13,471.41 L557.5,471.47 L557.86,471.53 L558.23,471.59 L558.6,471.65 L558.96,471.71 L559.33,471.77 L559.7,471.82 L560.06,471.88 L560.43,471.94 L560.8,472 L561.16,472.06 L561.53,472.11 L561.9,472.17 L562.26,472.23 L562.63,472.28 L563,472.34 L563.36,472.39 L563.73,472.45 L564.1,472.5 L564.46,472.56 L564.83,472.61 L565.2,472.66 L565.56,472.71 L565.93,472.76 L566.3,472.82 L566.66,472.87 L567.03,472.92 L567.4,472.97 L567.76,473.01 L568.13,473.06 L568.5,473.11 L568.86,473.16 L569.23,473.2 L569.6,473.25 L569.96,473.29 L570.33,473.34 L570.7,473.38 L571.06,473.43 L571.43,473.47 L571.8,473.51 L572.16,473.56 L572.53,473.6 L572.9,473.64 L573.26,473.68 L573.63,473.72 L573.99,473.76 L574.36,473.8 L574.73,473.84 L575.09,473.88 L575.46,473.91 L575.83,473.95 L576.19,473.99 L576.56,474.02 L576.93,474.06 L577.29,474.09 L577.66,474.13 L578.03,474.16 L578.39,474.2 L578.76,474.23 L579.13,474.26 L579.49,474.3 L579.86,474.33 L580.23,474.36 L580.59,474.39 L580.96,474.42 L581.33,474.45 L581.69,474.48 L582.06,474.51 L582.43,474.54 L582.79,474.57 L583.16,474.6 L583.53,474.62 L583.89,474.65 L584.26,474.68 L584.63,474.71 L584.99,474.73 L585.36,474.76 L585.73,474.78 L586.09,474.81 L586.46,474.83 L586.83,474.86 L587.19,474.88 L587.56,474.91 L587.93,474.93 L588.29,474.96 L588.66,474.98 L589.03,475 L589.39,475.02 L589.76,475.05 L590.13,475.07 L590.49,475.09 L590.86,475.11 L591.23,475.13 L591.59,475.15 L591.96,475.17 L592.33,475.19 L592.69,475.21 L593.06,475.23 L593.43,475.25 L593.79,475.27 L594.16,475.29 L594.53,475.31 L594.89,475.33 L595.26,475.34 L595.63,475.36 L595.99,475.38 L596.36,475.4 L596.73,475.42 L597.09,475.43 L597.46,475.45 L597.83,475.47 L598.19,475.48 L598.56,475.5 L598.93,475.51 L599.29,475.53 L599.66,475.55 L600.03,475.56 L600.39,475.58 L600.76,475.59 L601.13,475.61 L601.49,475.62 L601.86,475.63 L602.23,475.65 L602.59,475.66 L602.96,475.68 L603.33,475.69 L603.69,475.7 L604.06,475.72 L604.43,475.73 L604.79,475.74 L605.16,475.76 L605.53,475.77 L605.89,475.78 L606.26,475.79 L606.63,475.81 L606.99,475.82 L607.36,475.83 L607.73,475.84 L608.09,475.85 L608.46,475.87 L608.83,475.88 L609.19,475.89 L609.56,475.9 L609.93,475.91 L610.29,475.92 L610.66,475.93 L611.03,475.94 L611.39,475.95 L611.76,475.96 L612.13,475.97 L612.49,475.98 L612.86,475.99 L613.23,476 L613.59,476.01 L613.96,476.02 L614.33,476.03 L614.69,476.04 L615.06,476.05 L615.43,476.06 L615.79,476.07 L616.16,476.08 L616.53,476.09 L616.89,476.1 L617.26,476.1 L617.63,476.11 L617.99,476.12 L618.36,476.13 L618.73,476.14 L619.09,476.15 L619.46,476.15 L619.83,476.16 L620.19,476.17 L620.56,476.18 L620.93,476.19 L621.29,476.19 L621.66,476.2 L622.03,476.21 L622.39,476.22 L622.76,476.22 L623.13,476.23 L623.49,476.24 L623.86,476.25 L624.23,476.25 L624.59,476.26 L624.96,476.27 L625.33,476.27 L625.69,476.28 L626.06,476.29 L626.43,476.29 L626.79,476.3 L627.16,476.31 L627.53,476.31 L627.89,476.32 L628.26,476.33 L628.63,476.33 L628.99,476.34 L629.36,476.34 L629.73,476.35 L630.09,476.36 L630.46,476.36 L630.83,476.37 L631.19,476.37 L631.56,476.38 L631.93,476.39 L632.29,476.39 L632.66,476.4 L633.03,476.4 L633.39,476.41 L633.76,476.41 L634.13,476.42 L634.49,476.42 L634.86,476.43 L635.23,476.43 L635.59,476.44 L635.96,476.44 L636.33,476.45 L636.69,476.45 L637.06,476.46 L637.43,476.46 L637.79,476.47 L638.16,476.47 L638.53,476.48 L638.89,476.48 L639.26,476.49 L639.63,476.49 L639.99,476.5 L640.36,476.5 L640.73,476.51 L641.09,476.51 L641.46,476.52 L641.83,476.52 L642.19,476.52 L642.56,476.53 L642.93,476.53 L643.29,476.54 L643.66,476.54 L644.03,476.55 L644.39,476.55 L644.76,476.55 L645.13,476.56 L645.49,476.56 L645.86,476.57 L646.23,476.57 L646.59,476.57 L646.96,476.58 L647.33,476.58 L647.69,476.58 L648.06,476.59 L648.43,476.59 L648.79,476.6 L649.16,476.6 L649.53,476.6 L649.89,476.61 L650.26,476.61 L650.63,476.61 L650.99,476.62 L651.36,476.62 L651.73,476.62 L652.09,476.63 L652.46,476.63 L652.83,476.63 L653.19,476.64 L653.56,476.64 L653.93,476.64 L654.29,476.65 L654.66,476.65 L655.03,476.65 L655.39,476.66 L655.76,476.66 L656.13,476.66 L656.49,476.67 L656.86,476.67 L657.23,476.67 L657.59,476.68 L657.96,476.68 L658.33,476.68 L658.69,476.68 L659.06,476.69 L659.43,476.69 L659.79,476.69 L660.16,476.7 L660.53,476.7 L660.89,476.7 L661.26,476.7 L661.63,476.71 L661.99,476.71 L662.36,476.71 L662.73,476.71 L663.09,476.72 L663.46,476.72 L663.83,476.72 L664.19,476.73 L664.56,476.73 L664.93,476.73 L665.29,476.73 L665.66,476.74 L666.03,476.74 L666.39,476.74 L666.76,476.74 L667.13,476.75 L667.49,476.75 L667.86,476.75 L668.23,476.75 L668.59,476.75 L668.96,476.76 L669.33,476.76 L669.69,476.76 L669.69,477.2 L413.4,477.2 Z" fill="rgba(205,195,130,0.45)"/><path d="M413.4,476.53 L413.77,476.52 L414.13,476.5 L414.5,476.49 L414.87,476.48 L415.23,476.46 L415.6,476.45 L415.97,476.43 L416.33,476.42 L416.7,476.4 L417.07,476.38 L417.43,476.37 L417.8,476.35 L418.17,476.33 L418.53,476.31 L418.9,476.29 L419.27,476.27 L419.63,476.25 L420,476.23 L420.37,476.21 L420.73,476.19 L421.1,476.17 L421.47,476.14 L421.83,476.12 L422.2,476.09 L422.57,476.07 L422.93,476.04 L423.3,476.01 L423.67,475.98 L424.03,475.95 L424.4,475.92 L424.77,475.89 L425.13,475.85 L425.5,475.82 L425.87,475.78 L426.23,475.74 L426.6,475.7 L426.97,475.66 L427.33,475.62 L427.7,475.58 L428.07,475.53 L428.43,475.48 L428.8,475.43 L429.17,475.38 L429.53,475.32 L429.9,475.27 L430.27,475.21 L430.63,475.15 L431,475.08 L431.37,475.01 L431.73,474.94 L432.1,474.87 L432.47,474.79 L432.83,474.71 L433.2,474.63 L433.57,474.54 L433.93,474.44 L434.3,474.35 L434.67,474.24 L435.03,474.14 L435.4,474.02 L435.77,473.9 L436.13,473.78 L436.5,473.65 L436.87,473.51 L437.23,473.36 L437.6,473.21 L437.97,473.05 L438.33,472.88 L438.7,472.7 L439.07,472.51 L439.43,472.31 L439.8,472.1 L440.17,471.88 L440.53,471.65 L440.9,471.4 L441.27,471.15 L441.63,470.88 L442,470.59 L442.37,470.29 L442.73,469.98 L443.1,469.66 L443.47,469.31 L443.83,468.96 L444.2,468.59 L444.57,468.21 L444.93,467.82 L445.3,467.42 L445.67,467.01 L446.03,466.59 L446.4,466.18 L446.77,465.76 L447.13,465.35 L447.5,464.95 L447.87,464.56 L448.23,464.19 L448.6,463.85 L448.97,463.54 L449.33,463.27 L449.7,463.05 L450.07,462.87 L450.43,462.74 L450.8,462.67 L451.17,462.65 L451.53,462.69 L451.9,462.79 L452.27,462.93 L452.63,463.13 L453,463.38 L453.37,463.67 L453.73,463.99 L454.1,464.34 L454.47,464.72 L454.83,465.11 L455.2,465.52 L455.57,465.93 L455.93,466.35 L456.3,466.77 L456.67,467.18 L457.03,467.59 L457.4,467.98 L457.77,468.37 L458.13,468.75 L458.5,469.11 L458.87,469.46 L459.23,469.79 L459.6,470.11 L459.97,470.42 L460.33,470.71 L460.7,470.99 L461.07,471.25 L461.43,471.51 L461.8,471.75 L462.17,471.97 L462.53,472.19 L462.9,472.39 L463.27,472.59 L463.63,472.77 L464,472.95 L464.37,473.12 L464.73,473.27 L465.1,473.42 L465.47,473.57 L465.83,473.7 L466.2,473.83 L466.57,473.95 L466.93,474.07 L467.3,474.18 L467.66,474.29 L468.03,474.39 L468.4,474.48 L468.76,474.58 L469.13,474.66 L469.5,474.75 L469.86,474.82 L470.23,474.9 L470.6,474.97 L470.96,475.04 L471.33,475.11 L471.7,475.17 L472.06,475.23 L472.43,475.29 L472.8,475.35 L473.16,475.4 L473.53,475.45 L473.9,475.5 L474.26,475.55 L474.63,475.59 L475,475.64 L475.36,475.68 L475.73,475.72 L476.1,475.76 L476.46,475.8 L476.83,475.83 L477.2,475.87 L477.56,475.9 L477.93,475.93 L478.3,475.96 L478.66,475.99 L479.03,476.02 L479.4,476.05 L479.76,476.08 L480.13,476.1 L480.5,476.13 L480.86,476.15 L481.23,476.18 L481.6,476.2 L481.96,476.22 L482.33,476.24 L482.7,476.26 L483.06,476.28 L483.43,476.3 L483.8,476.32 L484.16,476.34 L484.53,476.36 L484.9,476.37 L485.26,476.39 L485.63,476.41 L486,476.42 L486.36,476.44 L486.73,476.45 L487.1,476.47 L487.46,476.48 L487.83,476.49 L488.2,476.51 L488.56,476.52 L488.93,476.53 L489.3,476.55 L489.66,476.56 L490.03,476.57 L490.4,476.58 L490.76,476.59 L491.13,476.6 L491.5,476.61 L491.86,476.62 L492.23,476.63 L492.6,476.64 L492.96,476.65 L493.33,476.66 L493.7,476.67 L494.06,476.68 L494.43,476.69 L494.8,476.69 L495.16,476.7 L495.53,476.71 L495.9,476.72 L496.26,476.73 L496.63,476.73 L497,476.74 L497.36,476.75 L497.73,476.75 L498.1,476.76 L498.46,476.77 L498.83,476.77 L499.2,476.78 L499.56,476.79 L499.93,476.79 L500.3,476.8 L500.66,476.8 L501.03,476.81 L501.4,476.82 L501.76,476.82 L502.13,476.83 L502.5,476.83 L502.86,476.84 L503.23,476.84 L503.6,476.85 L503.96,476.85 L504.33,476.86 L504.7,476.86 L505.06,476.86 L505.43,476.87 L505.8,476.87 L506.16,476.88 L506.53,476.88 L506.9,476.89 L507.26,476.89 L507.63,476.89 L508,476.9 L508.36,476.9 L508.73,476.9 L509.1,476.91 L509.46,476.91 L509.83,476.92 L510.2,476.92 L510.56,476.92 L510.93,476.93 L511.3,476.93 L511.66,476.93 L512.03,476.94 L512.4,476.94 L512.76,476.94 L513.13,476.94 L513.5,476.95 L513.86,476.95 L514.23,476.95 L514.6,476.96 L514.96,476.96 L515.33,476.96 L515.7,476.96 L516.06,476.97 L516.43,476.97 L516.8,476.97 L517.16,476.97 L517.53,476.98 L517.9,476.98 L518.26,476.98 L518.63,476.98 L519,476.99 L519.36,476.99 L519.73,476.99 L520.1,476.99 L520.46,477 L520.83,477 L521.2,477 L521.56,477 L521.93,477 L522.3,477.01 L522.66,477.01 L523.03,477.01 L523.4,477.01 L523.76,477.01 L524.13,477.01 L524.5,477.02 L524.86,477.02 L525.23,477.02 L525.6,477.02 L525.96,477.02 L526.33,477.03 L526.7,477.03 L527.06,477.03 L527.43,477.03 L527.8,477.03 L528.16,477.03 L528.53,477.04 L528.9,477.04 L529.26,477.04 L529.63,477.04 L530,477.04 L530.36,477.04 L530.73,477.04 L531.1,477.05 L531.46,477.05 L531.83,477.05 L532.2,477.05 L532.56,477.05 L532.93,477.05 L533.3,477.05 L533.66,477.05 L534.03,477.06 L534.4,477.06 L534.76,477.06 L535.13,477.06 L535.5,477.06 L535.86,477.06 L536.23,477.06 L536.6,477.06 L536.96,477.07 L537.33,477.07 L537.7,477.07 L538.06,477.07 L538.43,477.07 L538.8,477.07 L539.16,477.07 L539.53,477.07 L539.9,477.07 L540.26,477.08 L540.63,477.08 L541,477.08 L541.36,477.08 L541.73,477.08 L542.1,477.08 L542.46,477.08 L542.83,477.08 L543.2,477.08 L543.56,477.08 L543.93,477.08 L544.3,477.09 L544.66,477.09 L545.03,477.09 L545.4,477.09 L545.76,477.09 L546.13,477.09 L546.5,477.09 L546.86,477.09 L547.23,477.09 L547.6,477.09 L547.96,477.09 L548.33,477.09 L548.7,477.1 L549.06,477.1 L549.43,477.1 L549.8,477.1 L550.16,477.1 L550.53,477.1 L550.9,477.1 L551.26,477.1 L551.63,477.1 L552,477.1 L552.36,477.1 L552.73,477.1 L553.1,477.1 L553.46,477.11 L553.83,477.11 L554.2,477.11 L554.56,477.11 L554.93,477.11 L555.3,477.11 L555.66,477.11 L556.03,477.11 L556.4,477.11 L556.76,477.11 L557.13,477.11 L557.5,477.11 L557.86,477.11 L558.23,477.11 L558.6,477.11 L558.96,477.11 L559.33,477.12 L559.7,477.12 L560.06,477.12 L560.43,477.12 L560.8,477.12 L561.16,477.12 L561.53,477.12 L561.9,477.12 L562.26,477.12 L562.63,477.12 L563,477.12 L563.36,477.12 L563.73,477.12 L564.1,477.12 L564.46,477.12 L564.83,477.12 L565.2,477.12 L565.56,477.12 L565.93,477.12 L566.3,477.13 L566.66,477.13 L567.03,477.13 L567.4,477.13 L567.76,477.13 L568.13,477.13 L568.5,477.13 L568.86,477.13 L569.23,477.13 L569.6,477.13 L569.96,477.13 L570.33,477.13 L570.7,477.13 L571.06,477.13 L571.43,477.13 L571.8,477.13 L572.16,477.13 L572.53,477.13 L572.9,477.13 L573.26,477.13 L573.63,477.13 L573.99,477.13 L574.36,477.13 L574.73,477.13 L575.09,477.14 L575.46,477.14 L575.83,477.14 L576.19,477.14 L576.56,477.14 L576.93,477.14 L577.29,477.14 L577.66,477.14 L578.03,477.14 L578.39,477.14 L578.76,477.14 L579.13,477.14 L579.49,477.14 L579.86,477.14 L580.23,477.14 L580.59,477.14 L580.96,477.14 L581.33,477.14 L581.69,477.14 L582.06,477.14 L582.43,477.14 L582.79,477.14 L583.16,477.14 L583.53,477.14 L583.89,477.14 L584.26,477.14 L584.63,477.14 L584.99,477.14 L585.36,477.14 L585.73,477.15 L586.09,477.15 L586.46,477.15 L586.83,477.15 L587.19,477.15 L587.56,477.15 L587.93,477.15 L588.29,477.15 L588.66,477.15 L589.03,477.15 L589.39,477.15 L589.76,477.15 L590.13,477.15 L590.49,477.15 L590.86,477.15 L591.23,477.15 L591.59,477.15 L591.96,477.15 L592.33,477.15 L592.69,477.15 L593.06,477.15 L593.43,477.15 L593.79,477.15 L594.16,477.15 L594.53,477.15 L594.89,477.15 L595.26,477.15 L595.63,477.15 L595.99,477.15 L596.36,477.15 L596.73,477.15 L597.09,477.15 L597.46,477.15 L597.83,477.15 L598.19,477.15 L598.56,477.15 L598.93,477.15 L599.29,477.15 L599.66,477.15 L600.03,477.16 L600.39,477.16 L600.76,477.16 L601.13,477.16 L601.49,477.16 L601.86,477.16 L602.23,477.16 L602.59,477.16 L602.96,477.16 L603.33,477.16 L603.69,477.16 L604.06,477.16 L604.43,477.16 L604.79,477.16 L605.16,477.16 L605.53,477.16 L605.89,477.16 L606.26,477.16 L606.63,477.16 L606.99,477.16 L607.36,477.16 L607.73,477.16 L608.09,477.16 L608.46,477.16 L608.83,477.16 L609.19,477.16 L609.56,477.16 L609.93,477.16 L610.29,477.16 L610.66,477.16 L611.03,477.16 L611.39,477.16 L611.76,477.16 L612.13,477.16 L612.49,477.16 L612.86,477.16 L613.23,477.16 L613.59,477.16 L613.96,477.16 L614.33,477.16 L614.69,477.16 L615.06,477.16 L615.43,477.16 L615.79,477.16 L616.16,477.16 L616.53,477.16 L616.89,477.16 L617.26,477.16 L617.63,477.16 L617.99,477.16 L618.36,477.16 L618.73,477.16 L619.09,477.16 L619.46,477.16 L619.83,477.16 L620.19,477.17 L620.56,477.17 L620.93,477.17 L621.29,477.17 L621.66,477.17 L622.03,477.17 L622.39,477.17 L622.76,477.17 L623.13,477.17 L623.49,477.17 L623.86,477.17 L624.23,477.17 L624.59,477.17 L624.96,477.17 L625.33,477.17 L625.69,477.17 L626.06,477.17 L626.43,477.17 L626.79,477.17 L627.16,477.17 L627.53,477.17 L627.89,477.17 L628.26,477.17 L628.63,477.17 L628.99,477.17 L629.36,477.17 L629.73,477.17 L630.09,477.17 L630.46,477.17 L630.83,477.17 L631.19,477.17 L631.56,477.17 L631.93,477.17 L632.29,477.17 L632.66,477.17 L633.03,477.17 L633.39,477.17 L633.76,477.17 L634.13,477.17 L634.49,477.17 L634.86,477.17 L635.23,477.17 L635.59,477.17 L635.96,477.17 L636.33,477.17 L636.69,477.17 L637.06,477.17 L637.43,477.17 L637.79,477.17 L638.16,477.17 L638.53,477.17 L638.89,477.17 L639.26,477.17 L639.63,477.17 L639.99,477.17 L640.36,477.17 L640.73,477.17 L641.09,477.17 L641.46,477.17 L641.83,477.17 L642.19,477.17 L642.56,477.17 L642.93,477.17 L643.29,477.17 L643.66,477.17 L644.03,477.17 L644.39,477.17 L644.76,477.17 L645.13,477.17 L645.49,477.17 L645.86,477.17 L646.23,477.17 L646.59,477.17 L646.96,477.17 L647.33,477.17 L647.69,477.17 L648.06,477.17 L648.43,477.17 L648.79,477.17 L649.16,477.17 L649.53,477.17 L649.89,477.17 L650.26,477.17 L650.63,477.17 L650.99,477.18 L651.36,477.18 L651.73,477.18 L652.09,477.18 L652.46,477.18 L652.83,477.18 L653.19,477.18 L653.56,477.18 L653.93,477.18 L654.29,477.18 L654.66,477.18 L655.03,477.18 L655.39,477.18 L655.76,477.18 L656.13,477.18 L656.49,477.18 L656.86,477.18 L657.23,477.18 L657.59,477.18 L657.96,477.18 L658.33,477.18 L658.69,477.18 L659.06,477.18 L659.43,477.18 L659.79,477.18 L660.16,477.18 L660.53,477.18 L660.89,477.18 L661.26,477.18 L661.63,477.18 L661.99,477.18 L662.36,477.18 L662.73,477.18 L663.09,477.18 L663.46,477.18 L663.83,477.18 L664.19,477.18 L664.56,477.18 L664.93,477.18 L665.29,477.18 L665.66,477.18 L666.03,477.18 L666.39,477.18 L666.76,477.18 L667.13,477.18 L667.49,477.18 L667.86,477.18 L668.23,477.18 L668.59,477.18 L668.96,477.18 L669.33,477.18 L669.69,477.18 L669.69,477.2 L413.4,477.2 Z" fill="rgba(205,150,215,0.55)"/><path d="M413.4,476.86 L413.77,476.86 L414.13,476.85 L414.5,476.85 L414.87,476.85 L415.23,476.84 L415.6,476.84 L415.97,476.83 L416.33,476.83 L416.7,476.83 L417.07,476.82 L417.43,476.82 L417.8,476.82 L418.17,476.81 L418.53,476.81 L418.9,476.81 L419.27,476.8 L419.63,476.8 L420,476.79 L420.37,476.79 L420.73,476.78 L421.1,476.78 L421.47,476.78 L421.83,476.77 L422.2,476.77 L422.57,476.76 L422.93,476.76 L423.3,476.75 L423.67,476.75 L424.03,476.74 L424.4,476.74 L424.77,476.73 L425.13,476.73 L425.5,476.72 L425.87,476.72 L426.23,476.71 L426.6,476.71 L426.97,476.7 L427.33,476.7 L427.7,476.69 L428.07,476.68 L428.43,476.68 L428.8,476.67 L429.17,476.67 L429.53,476.66 L429.9,476.65 L430.27,476.65 L430.63,476.64 L431,476.63 L431.37,476.63 L431.73,476.62 L432.1,476.61 L432.47,476.61 L432.83,476.6 L433.2,476.59 L433.57,476.58 L433.93,476.58 L434.3,476.57 L434.67,476.56 L435.03,476.55 L435.4,476.54 L435.77,476.53 L436.13,476.53 L436.5,476.52 L436.87,476.51 L437.23,476.5 L437.6,476.49 L437.97,476.48 L438.33,476.47 L438.7,476.46 L439.07,476.45 L439.43,476.44 L439.8,476.43 L440.17,476.42 L440.53,476.41 L440.9,476.4 L441.27,476.38 L441.63,476.37 L442,476.36 L442.37,476.35 L442.73,476.34 L443.1,476.32 L443.47,476.31 L443.83,476.3 L444.2,476.28 L444.57,476.27 L444.93,476.25 L445.3,476.24 L445.67,476.23 L446.03,476.21 L446.4,476.19 L446.77,476.18 L447.13,476.16 L447.5,476.14 L447.87,476.13 L448.23,476.11 L448.6,476.09 L448.97,476.07 L449.33,476.05 L449.7,476.03 L450.07,476.01 L450.43,475.99 L450.8,475.97 L451.17,475.95 L451.53,475.93 L451.9,475.91 L452.27,475.88 L452.63,475.86 L453,475.83 L453.37,475.81 L453.73,475.78 L454.1,475.76 L454.47,475.73 L454.83,475.7 L455.2,475.67 L455.57,475.64 L455.93,475.61 L456.3,475.58 L456.67,475.55 L457.03,475.51 L457.4,475.48 L457.77,475.44 L458.13,475.41 L458.5,475.37 L458.87,475.33 L459.23,475.29 L459.6,475.25 L459.97,475.21 L460.33,475.16 L460.7,475.12 L461.07,475.07 L461.43,475.02 L461.8,474.97 L462.17,474.92 L462.53,474.87 L462.9,474.81 L463.27,474.75 L463.63,474.69 L464,474.63 L464.37,474.57 L464.73,474.5 L465.1,474.43 L465.47,474.36 L465.83,474.29 L466.2,474.21 L466.57,474.13 L466.93,474.05 L467.3,473.97 L467.66,473.88 L468.03,473.79 L468.4,473.69 L468.76,473.59 L469.13,473.49 L469.5,473.38 L469.86,473.26 L470.23,473.15 L470.6,473.02 L470.96,472.9 L471.33,472.76 L471.7,472.62 L472.06,472.48 L472.43,472.33 L472.8,472.17 L473.16,472 L473.53,471.83 L473.9,471.64 L474.26,471.45 L474.63,471.26 L475,471.05 L475.36,470.83 L475.73,470.6 L476.1,470.36 L476.46,470.11 L476.83,469.84 L477.2,469.57 L477.56,469.28 L477.93,468.97 L478.3,468.65 L478.66,468.32 L479.03,467.97 L479.4,467.6 L479.76,467.21 L480.13,466.81 L480.5,466.38 L480.86,465.94 L481.23,465.48 L481.6,464.99 L481.96,464.49 L482.33,463.96 L482.7,463.42 L483.06,462.85 L483.43,462.26 L483.8,461.66 L484.16,461.03 L484.53,460.4 L484.9,459.74 L485.26,459.08 L485.63,458.41 L486,457.74 L486.36,457.07 L486.73,456.41 L487.1,455.77 L487.46,455.14 L487.83,454.54 L488.2,453.99 L488.56,453.47 L488.93,453.01 L489.3,452.61 L489.66,452.27 L490.03,452.01 L490.4,451.82 L490.76,451.72 L491.13,451.69 L491.5,451.76 L491.86,451.9 L492.23,452.12 L492.6,452.42 L492.96,452.79 L493.33,453.23 L493.7,453.72 L494.06,454.25 L494.43,454.83 L494.8,455.44 L495.16,456.08 L495.53,456.73 L495.9,457.4 L496.26,458.07 L496.63,458.74 L497,459.41 L497.36,460.06 L497.73,460.71 L498.1,461.34 L498.46,461.96 L498.83,462.55 L499.2,463.13 L499.56,463.69 L499.93,464.22 L500.3,464.74 L500.66,465.23 L501.03,465.71 L501.4,466.16 L501.76,466.59 L502.13,467.01 L502.5,467.4 L502.86,467.78 L503.23,468.14 L503.6,468.48 L503.96,468.81 L504.33,469.12 L504.7,469.42 L505.06,469.7 L505.43,469.97 L505.8,470.23 L506.16,470.48 L506.53,470.71 L506.9,470.94 L507.26,471.15 L507.63,471.35 L508,471.55 L508.36,471.73 L508.73,471.91 L509.1,472.08 L509.46,472.24 L509.83,472.4 L510.2,472.55 L510.56,472.69 L510.93,472.83 L511.3,472.96 L511.66,473.08 L512.03,473.2 L512.4,473.32 L512.76,473.43 L513.13,473.54 L513.5,473.64 L513.86,473.74 L514.23,473.83 L514.6,473.92 L514.96,474.01 L515.33,474.09 L515.7,474.17 L516.06,474.25 L516.43,474.33 L516.8,474.4 L517.16,474.47 L517.53,474.54 L517.9,474.6 L518.26,474.66 L518.63,474.72 L519,474.78 L519.36,474.84 L519.73,474.89 L520.1,474.95 L520.46,475 L520.83,475.05 L521.2,475.09 L521.56,475.14 L521.93,475.19 L522.3,475.23 L522.66,475.27 L523.03,475.31 L523.4,475.35 L523.76,475.39 L524.13,475.43 L524.5,475.46 L524.86,475.5 L525.23,475.53 L525.6,475.56 L525.96,475.6 L526.33,475.63 L526.7,475.66 L527.06,475.69 L527.43,475.72 L527.8,475.74 L528.16,475.77 L528.53,475.8 L528.9,475.82 L529.26,475.85 L529.63,475.87 L530,475.89 L530.36,475.92 L530.73,475.94 L531.1,475.96 L531.46,475.98 L531.83,476 L532.2,476.02 L532.56,476.04 L532.93,476.06 L533.3,476.08 L533.66,476.1 L534.03,476.12 L534.4,476.14 L534.76,476.15 L535.13,476.17 L535.5,476.19 L535.86,476.2 L536.23,476.22 L536.6,476.23 L536.96,476.25 L537.33,476.26 L537.7,476.28 L538.06,476.29 L538.43,476.3 L538.8,476.32 L539.16,476.33 L539.53,476.34 L539.9,476.35 L540.26,476.37 L540.63,476.38 L541,476.39 L541.36,476.4 L541.73,476.41 L542.1,476.42 L542.46,476.43 L542.83,476.44 L543.2,476.46 L543.56,476.47 L543.93,476.48 L544.3,476.48 L544.66,476.49 L545.03,476.5 L545.4,476.51 L545.76,476.52 L546.13,476.53 L546.5,476.54 L546.86,476.55 L547.23,476.56 L547.6,476.56 L547.96,476.57 L548.33,476.58 L548.7,476.59 L549.06,476.59 L549.43,476.6 L549.8,476.61 L550.16,476.62 L550.53,476.62 L550.9,476.63 L551.26,476.64 L551.63,476.64 L552,476.65 L552.36,476.66 L552.73,476.66 L553.1,476.67 L553.46,476.68 L553.83,476.68 L554.2,476.69 L554.56,476.69 L554.93,476.7 L555.3,476.7 L555.66,476.71 L556.03,476.72 L556.4,476.72 L556.76,476.73 L557.13,476.73 L557.5,476.74 L557.86,476.74 L558.23,476.75 L558.6,476.75 L558.96,476.76 L559.33,476.76 L559.7,476.76 L560.06,476.77 L560.43,476.77 L560.8,476.78 L561.16,476.78 L561.53,476.79 L561.9,476.79 L562.26,476.8 L562.63,476.8 L563,476.8 L563.36,476.81 L563.73,476.81 L564.1,476.81 L564.46,476.82 L564.83,476.82 L565.2,476.83 L565.56,476.83 L565.93,476.83 L566.3,476.84 L566.66,476.84 L567.03,476.84 L567.4,476.85 L567.76,476.85 L568.13,476.85 L568.5,476.86 L568.86,476.86 L569.23,476.86 L569.6,476.87 L569.96,476.87 L570.33,476.87 L570.7,476.88 L571.06,476.88 L571.43,476.88 L571.8,476.88 L572.16,476.89 L572.53,476.89 L572.9,476.89 L573.26,476.89 L573.63,476.9 L573.99,476.9 L574.36,476.9 L574.73,476.91 L575.09,476.91 L575.46,476.91 L575.83,476.91 L576.19,476.92 L576.56,476.92 L576.93,476.92 L577.29,476.92 L577.66,476.92 L578.03,476.93 L578.39,476.93 L578.76,476.93 L579.13,476.93 L579.49,476.94 L579.86,476.94 L580.23,476.94 L580.59,476.94 L580.96,476.94 L581.33,476.95 L581.69,476.95 L582.06,476.95 L582.43,476.95 L582.79,476.95 L583.16,476.96 L583.53,476.96 L583.89,476.96 L584.26,476.96 L584.63,476.96 L584.99,476.97 L585.36,476.97 L585.73,476.97 L586.09,476.97 L586.46,476.97 L586.83,476.97 L587.19,476.98 L587.56,476.98 L587.93,476.98 L588.29,476.98 L588.66,476.98 L589.03,476.98 L589.39,476.99 L589.76,476.99 L590.13,476.99 L590.49,476.99 L590.86,476.99 L591.23,476.99 L591.59,477 L591.96,477 L592.33,477 L592.69,477 L593.06,477 L593.43,477 L593.79,477 L594.16,477.01 L594.53,477.01 L594.89,477.01 L595.26,477.01 L595.63,477.01 L595.99,477.01 L596.36,477.01 L596.73,477.01 L597.09,477.02 L597.46,477.02 L597.83,477.02 L598.19,477.02 L598.56,477.02 L598.93,477.02 L599.29,477.02 L599.66,477.02 L600.03,477.03 L600.39,477.03 L600.76,477.03 L601.13,477.03 L601.49,477.03 L601.86,477.03 L602.23,477.03 L602.59,477.03 L602.96,477.03 L603.33,477.04 L603.69,477.04 L604.06,477.04 L604.43,477.04 L604.79,477.04 L605.16,477.04 L605.53,477.04 L605.89,477.04 L606.26,477.04 L606.63,477.04 L606.99,477.05 L607.36,477.05 L607.73,477.05 L608.09,477.05 L608.46,477.05 L608.83,477.05 L609.19,477.05 L609.56,477.05 L609.93,477.05 L610.29,477.05 L610.66,477.05 L611.03,477.06 L611.39,477.06 L611.76,477.06 L612.13,477.06 L612.49,477.06 L612.86,477.06 L613.23,477.06 L613.59,477.06 L613.96,477.06 L614.33,477.06 L614.69,477.06 L615.06,477.07 L615.43,477.07 L615.79,477.07 L616.16,477.07 L616.53,477.07 L616.89,477.07 L617.26,477.07 L617.63,477.07 L617.99,477.07 L618.36,477.07 L618.73,477.07 L619.09,477.07 L619.46,477.07 L619.83,477.07 L620.19,477.08 L620.56,477.08 L620.93,477.08 L621.29,477.08 L621.66,477.08 L622.03,477.08 L622.39,477.08 L622.76,477.08 L623.13,477.08 L623.49,477.08 L623.86,477.08 L624.23,477.08 L624.59,477.08 L624.96,477.08 L625.33,477.08 L625.69,477.09 L626.06,477.09 L626.43,477.09 L626.79,477.09 L627.16,477.09 L627.53,477.09 L627.89,477.09 L628.26,477.09 L628.63,477.09 L628.99,477.09 L629.36,477.09 L629.73,477.09 L630.09,477.09 L630.46,477.09 L630.83,477.09 L631.19,477.09 L631.56,477.09 L631.93,477.1 L632.29,477.1 L632.66,477.1 L633.03,477.1 L633.39,477.1 L633.76,477.1 L634.13,477.1 L634.49,477.1 L634.86,477.1 L635.23,477.1 L635.59,477.1 L635.96,477.1 L636.33,477.1 L636.69,477.1 L637.06,477.1 L637.43,477.1 L637.79,477.1 L638.16,477.1 L638.53,477.1 L638.89,477.1 L639.26,477.11 L639.63,477.11 L639.99,477.11 L640.36,477.11 L640.73,477.11 L641.09,477.11 L641.46,477.11 L641.83,477.11 L642.19,477.11 L642.56,477.11 L642.93,477.11 L643.29,477.11 L643.66,477.11 L644.03,477.11 L644.39,477.11 L644.76,477.11 L645.13,477.11 L645.49,477.11 L645.86,477.11 L646.23,477.11 L646.59,477.11 L646.96,477.11 L647.33,477.11 L647.69,477.12 L648.06,477.12 L648.43,477.12 L648.79,477.12 L649.16,477.12 L649.53,477.12 L649.89,477.12 L650.26,477.12 L650.63,477.12 L650.99,477.12 L651.36,477.12 L651.73,477.12 L652.09,477.12 L652.46,477.12 L652.83,477.12 L653.19,477.12 L653.56,477.12 L653.93,477.12 L654.29,477.12 L654.66,477.12 L655.03,477.12 L655.39,477.12 L655.76,477.12 L656.13,477.12 L656.49,477.12 L656.86,477.12 L657.23,477.12 L657.59,477.12 L657.96,477.13 L658.33,477.13 L658.69,477.13 L659.06,477.13 L659.43,477.13 L659.79,477.13 L660.16,477.13 L660.53,477.13 L660.89,477.13 L661.26,477.13 L661.63,477.13 L661.99,477.13 L662.36,477.13 L662.73,477.13 L663.09,477.13 L663.46,477.13 L663.83,477.13 L664.19,477.13 L664.56,477.13 L664.93,477.13 L665.29,477.13 L665.66,477.13 L666.03,477.13 L666.39,477.13 L666.76,477.13 L667.13,477.13 L667.49,477.13 L667.86,477.13 L668.23,477.13 L668.59,477.13 L668.96,477.13 L669.33,477.13 L669.69,477.13 L669.69,477.2 L413.4,477.2 Z" fill="rgba(165,228,232,0.5)"/><path d="M413.4,476.57 L413.77,476.56 L414.13,476.56 L414.5,476.56 L414.87,476.55 L415.23,476.55 L415.6,476.54 L415.97,476.54 L416.33,476.53 L416.7,476.53 L417.07,476.52 L417.43,476.52 L417.8,476.51 L418.17,476.51 L418.53,476.51 L418.9,476.5 L419.27,476.5 L419.63,476.49 L420,476.49 L420.37,476.48 L420.73,476.48 L421.1,476.47 L421.47,476.47 L421.83,476.46 L422.2,476.46 L422.57,476.45 L422.93,476.44 L423.3,476.44 L423.67,476.43 L424.03,476.43 L424.4,476.42 L424.77,476.42 L425.13,476.41 L425.5,476.41 L425.87,476.4 L426.23,476.39 L426.6,476.39 L426.97,476.38 L427.33,476.38 L427.7,476.37 L428.07,476.36 L428.43,476.36 L428.8,476.35 L429.17,476.34 L429.53,476.34 L429.9,476.33 L430.27,476.32 L430.63,476.32 L431,476.31 L431.37,476.3 L431.73,476.3 L432.1,476.29 L432.47,476.28 L432.83,476.28 L433.2,476.27 L433.57,476.26 L433.93,476.25 L434.3,476.25 L434.67,476.24 L435.03,476.23 L435.4,476.22 L435.77,476.21 L436.13,476.21 L436.5,476.2 L436.87,476.19 L437.23,476.18 L437.6,476.17 L437.97,476.16 L438.33,476.16 L438.7,476.15 L439.07,476.14 L439.43,476.13 L439.8,476.12 L440.17,476.11 L440.53,476.1 L440.9,476.09 L441.27,476.08 L441.63,476.07 L442,476.06 L442.37,476.05 L442.73,476.04 L443.1,476.03 L443.47,476.02 L443.83,476.01 L444.2,476 L444.57,475.99 L444.93,475.98 L445.3,475.97 L445.67,475.96 L446.03,475.95 L446.4,475.94 L446.77,475.92 L447.13,475.91 L447.5,475.9 L447.87,475.89 L448.23,475.88 L448.6,475.86 L448.97,475.85 L449.33,475.84 L449.7,475.82 L450.07,475.81 L450.43,475.8 L450.8,475.78 L451.17,475.77 L451.53,475.76 L451.9,475.74 L452.27,475.73 L452.63,475.71 L453,475.7 L453.37,475.68 L453.73,475.67 L454.1,475.65 L454.47,475.64 L454.83,475.62 L455.2,475.61 L455.57,475.59 L455.93,475.57 L456.3,475.56 L456.67,475.54 L457.03,475.52 L457.4,475.5 L457.77,475.49 L458.13,475.47 L458.5,475.45 L458.87,475.43 L459.23,475.41 L459.6,475.39 L459.97,475.37 L460.33,475.35 L460.7,475.33 L461.07,475.31 L461.43,475.29 L461.8,475.27 L462.17,475.25 L462.53,475.22 L462.9,475.2 L463.27,475.18 L463.63,475.16 L464,475.13 L464.37,475.11 L464.73,475.08 L465.1,475.06 L465.47,475.03 L465.83,475.01 L466.2,474.98 L466.57,474.96 L466.93,474.93 L467.3,474.9 L467.66,474.87 L468.03,474.85 L468.4,474.82 L468.76,474.79 L469.13,474.76 L469.5,474.73 L469.86,474.7 L470.23,474.66 L470.6,474.63 L470.96,474.6 L471.33,474.57 L471.7,474.53 L472.06,474.5 L472.43,474.46 L472.8,474.42 L473.16,474.39 L473.53,474.35 L473.9,474.31 L474.26,474.27 L474.63,474.23 L475,474.19 L475.36,474.15 L475.73,474.11 L476.1,474.07 L476.46,474.02 L476.83,473.98 L477.2,473.93 L477.56,473.89 L477.93,473.84 L478.3,473.79 L478.66,473.74 L479.03,473.69 L479.4,473.64 L479.76,473.59 L480.13,473.53 L480.5,473.48 L480.86,473.42 L481.23,473.37 L481.6,473.31 L481.96,473.25 L482.33,473.19 L482.7,473.13 L483.06,473.06 L483.43,473 L483.8,472.93 L484.16,472.86 L484.53,472.79 L484.9,472.72 L485.26,472.65 L485.63,472.58 L486,472.5 L486.36,472.42 L486.73,472.34 L487.1,472.26 L487.46,472.18 L487.83,472.09 L488.2,472.01 L488.56,471.92 L488.93,471.83 L489.3,471.73 L489.66,471.64 L490.03,471.54 L490.4,471.44 L490.76,471.34 L491.13,471.23 L491.5,471.12 L491.86,471.01 L492.23,470.9 L492.6,470.78 L492.96,470.66 L493.33,470.54 L493.7,470.42 L494.06,470.29 L494.43,470.16 L494.8,470.02 L495.16,469.89 L495.53,469.74 L495.9,469.6 L496.26,469.45 L496.63,469.3 L497,469.14 L497.36,468.98 L497.73,468.82 L498.1,468.65 L498.46,468.48 L498.83,468.3 L499.2,468.12 L499.56,467.93 L499.93,467.74 L500.3,467.55 L500.66,467.35 L501.03,467.14 L501.4,466.93 L501.76,466.72 L502.13,466.5 L502.5,466.27 L502.86,466.04 L503.23,465.81 L503.6,465.56 L503.96,465.32 L504.33,465.06 L504.7,464.8 L505.06,464.54 L505.43,464.27 L505.8,463.99 L506.16,463.71 L506.53,463.42 L506.9,463.13 L507.26,462.83 L507.63,462.52 L508,462.21 L508.36,461.9 L508.73,461.58 L509.1,461.25 L509.46,460.92 L509.83,460.59 L510.2,460.25 L510.56,459.91 L510.93,459.56 L511.3,459.22 L511.66,458.87 L512.03,458.51 L512.4,458.16 L512.76,457.81 L513.13,457.45 L513.5,457.1 L513.86,456.75 L514.23,456.4 L514.6,456.05 L514.96,455.71 L515.33,455.38 L515.7,455.05 L516.06,454.73 L516.43,454.42 L516.8,454.11 L517.16,453.82 L517.53,453.54 L517.9,453.27 L518.26,453.02 L518.63,452.78 L519,452.56 L519.36,452.36 L519.73,452.17 L520.1,452 L520.46,451.86 L520.83,451.73 L521.2,451.63 L521.56,451.54 L521.93,451.49 L522.3,451.45 L522.66,451.43 L523.03,451.44 L523.4,451.48 L523.76,451.53 L524.13,451.61 L524.5,451.71 L524.86,451.83 L525.23,451.97 L525.6,452.13 L525.96,452.32 L526.33,452.52 L526.7,452.73 L527.06,452.97 L527.43,453.22 L527.8,453.48 L528.16,453.76 L528.53,454.05 L528.9,454.35 L529.26,454.66 L529.63,454.98 L530,455.31 L530.36,455.64 L530.73,455.98 L531.1,456.33 L531.46,456.68 L531.83,457.03 L532.2,457.38 L532.56,457.73 L532.93,458.09 L533.3,458.44 L533.66,458.79 L534.03,459.14 L534.4,459.49 L534.76,459.84 L535.13,460.18 L535.5,460.52 L535.86,460.85 L536.23,461.19 L536.6,461.51 L536.96,461.83 L537.33,462.15 L537.7,462.46 L538.06,462.77 L538.43,463.07 L538.8,463.36 L539.16,463.65 L539.53,463.93 L539.9,464.21 L540.26,464.48 L540.63,464.75 L541,465.01 L541.36,465.26 L541.73,465.51 L542.1,465.76 L542.46,465.99 L542.83,466.23 L543.2,466.45 L543.56,466.67 L543.93,466.89 L544.3,467.1 L544.66,467.31 L545.03,467.51 L545.4,467.7 L545.76,467.9 L546.13,468.08 L546.5,468.26 L546.86,468.44 L547.23,468.62 L547.6,468.78 L547.96,468.95 L548.33,469.11 L548.7,469.27 L549.06,469.42 L549.43,469.57 L549.8,469.72 L550.16,469.86 L550.53,470 L550.9,470.13 L551.26,470.26 L551.63,470.39 L552,470.52 L552.36,470.64 L552.73,470.76 L553.1,470.87 L553.46,470.99 L553.83,471.1 L554.2,471.21 L554.56,471.31 L554.93,471.42 L555.3,471.52 L555.66,471.62 L556.03,471.71 L556.4,471.81 L556.76,471.9 L557.13,471.99 L557.5,472.08 L557.86,472.16 L558.23,472.24 L558.6,472.33 L558.96,472.41 L559.33,472.48 L559.7,472.56 L560.06,472.63 L560.43,472.71 L560.8,472.78 L561.16,472.85 L561.53,472.92 L561.9,472.98 L562.26,473.05 L562.63,473.11 L563,473.18 L563.36,473.24 L563.73,473.3 L564.1,473.35 L564.46,473.41 L564.83,473.47 L565.2,473.52 L565.56,473.58 L565.93,473.63 L566.3,473.68 L566.66,473.73 L567.03,473.78 L567.4,473.83 L567.76,473.88 L568.13,473.92 L568.5,473.97 L568.86,474.01 L569.23,474.06 L569.6,474.1 L569.96,474.14 L570.33,474.19 L570.7,474.23 L571.06,474.27 L571.43,474.3 L571.8,474.34 L572.16,474.38 L572.53,474.42 L572.9,474.45 L573.26,474.49 L573.63,474.52 L573.99,474.56 L574.36,474.59 L574.73,474.62 L575.09,474.66 L575.46,474.69 L575.83,474.72 L576.19,474.75 L576.56,474.78 L576.93,474.81 L577.29,474.84 L577.66,474.87 L578.03,474.9 L578.39,474.92 L578.76,474.95 L579.13,474.98 L579.49,475 L579.86,475.03 L580.23,475.05 L580.59,475.08 L580.96,475.1 L581.33,475.13 L581.69,475.15 L582.06,475.17 L582.43,475.2 L582.79,475.22 L583.16,475.24 L583.53,475.26 L583.89,475.29 L584.26,475.31 L584.63,475.33 L584.99,475.35 L585.36,475.37 L585.73,475.39 L586.09,475.41 L586.46,475.43 L586.83,475.44 L587.19,475.46 L587.56,475.48 L587.93,475.5 L588.29,475.52 L588.66,475.53 L589.03,475.55 L589.39,475.57 L589.76,475.59 L590.13,475.6 L590.49,475.62 L590.86,475.63 L591.23,475.65 L591.59,475.67 L591.96,475.68 L592.33,475.7 L592.69,475.71 L593.06,475.73 L593.43,475.74 L593.79,475.75 L594.16,475.77 L594.53,475.78 L594.89,475.8 L595.26,475.81 L595.63,475.82 L595.99,475.83 L596.36,475.85 L596.73,475.86 L597.09,475.87 L597.46,475.89 L597.83,475.9 L598.19,475.91 L598.56,475.92 L598.93,475.93 L599.29,475.94 L599.66,475.96 L600.03,475.97 L600.39,475.98 L600.76,475.99 L601.13,476 L601.49,476.01 L601.86,476.02 L602.23,476.03 L602.59,476.04 L602.96,476.05 L603.33,476.06 L603.69,476.07 L604.06,476.08 L604.43,476.09 L604.79,476.1 L605.16,476.11 L605.53,476.12 L605.89,476.13 L606.26,476.14 L606.63,476.15 L606.99,476.15 L607.36,476.16 L607.73,476.17 L608.09,476.18 L608.46,476.19 L608.83,476.2 L609.19,476.2 L609.56,476.21 L609.93,476.22 L610.29,476.23 L610.66,476.24 L611.03,476.24 L611.39,476.25 L611.76,476.26 L612.13,476.27 L612.49,476.27 L612.86,476.28 L613.23,476.29 L613.59,476.3 L613.96,476.3 L614.33,476.31 L614.69,476.32 L615.06,476.32 L615.43,476.33 L615.79,476.34 L616.16,476.34 L616.53,476.35 L616.89,476.36 L617.26,476.36 L617.63,476.37 L617.99,476.37 L618.36,476.38 L618.73,476.39 L619.09,476.39 L619.46,476.4 L619.83,476.4 L620.19,476.41 L620.56,476.42 L620.93,476.42 L621.29,476.43 L621.66,476.43 L622.03,476.44 L622.39,476.44 L622.76,476.45 L623.13,476.45 L623.49,476.46 L623.86,476.46 L624.23,476.47 L624.59,476.48 L624.96,476.48 L625.33,476.49 L625.69,476.49 L626.06,476.49 L626.43,476.5 L626.79,476.5 L627.16,476.51 L627.53,476.51 L627.89,476.52 L628.26,476.52 L628.63,476.53 L628.99,476.53 L629.36,476.54 L629.73,476.54 L630.09,476.55 L630.46,476.55 L630.83,476.55 L631.19,476.56 L631.56,476.56 L631.93,476.57 L632.29,476.57 L632.66,476.57 L633.03,476.58 L633.39,476.58 L633.76,476.59 L634.13,476.59 L634.49,476.59 L634.86,476.6 L635.23,476.6 L635.59,476.61 L635.96,476.61 L636.33,476.61 L636.69,476.62 L637.06,476.62 L637.43,476.62 L637.79,476.63 L638.16,476.63 L638.53,476.64 L638.89,476.64 L639.26,476.64 L639.63,476.65 L639.99,476.65 L640.36,476.65 L640.73,476.66 L641.09,476.66 L641.46,476.66 L641.83,476.67 L642.19,476.67 L642.56,476.67 L642.93,476.68 L643.29,476.68 L643.66,476.68 L644.03,476.68 L644.39,476.69 L644.76,476.69 L645.13,476.69 L645.49,476.7 L645.86,476.7 L646.23,476.7 L646.59,476.71 L646.96,476.71 L647.33,476.71 L647.69,476.71 L648.06,476.72 L648.43,476.72 L648.79,476.72 L649.16,476.72 L649.53,476.73 L649.89,476.73 L650.26,476.73 L650.63,476.74 L650.99,476.74 L651.36,476.74 L651.73,476.74 L652.09,476.75 L652.46,476.75 L652.83,476.75 L653.19,476.75 L653.56,476.76 L653.93,476.76 L654.29,476.76 L654.66,476.76 L655.03,476.77 L655.39,476.77 L655.76,476.77 L656.13,476.77 L656.49,476.77 L656.86,476.78 L657.23,476.78 L657.59,476.78 L657.96,476.78 L658.33,476.79 L658.69,476.79 L659.06,476.79 L659.43,476.79 L659.79,476.79 L660.16,476.8 L660.53,476.8 L660.89,476.8 L661.26,476.8 L661.63,476.8 L661.99,476.81 L662.36,476.81 L662.73,476.81 L663.09,476.81 L663.46,476.81 L663.83,476.82 L664.19,476.82 L664.56,476.82 L664.93,476.82 L665.29,476.82 L665.66,476.83 L666.03,476.83 L666.39,476.83 L666.76,476.83 L667.13,476.83 L667.49,476.84 L667.86,476.84 L668.23,476.84 L668.59,476.84 L668.96,476.84 L669.33,476.84 L669.69,476.85 L669.69,477.2 L413.4,477.2 Z" fill="rgba(175,225,160,0.5)"/><path d="M413.4,476.85 L413.77,476.85 L414.13,476.85 L414.5,476.84 L414.87,476.84 L415.23,476.84 L415.6,476.84 L415.97,476.84 L416.33,476.83 L416.7,476.83 L417.07,476.83 L417.43,476.83 L417.8,476.82 L418.17,476.82 L418.53,476.82 L418.9,476.82 L419.27,476.81 L419.63,476.81 L420,476.81 L420.37,476.81 L420.73,476.8 L421.1,476.8 L421.47,476.8 L421.83,476.8 L422.2,476.79 L422.57,476.79 L422.93,476.79 L423.3,476.79 L423.67,476.78 L424.03,476.78 L424.4,476.78 L424.77,476.77 L425.13,476.77 L425.5,476.77 L425.87,476.77 L426.23,476.76 L426.6,476.76 L426.97,476.76 L427.33,476.75 L427.7,476.75 L428.07,476.75 L428.43,476.74 L428.8,476.74 L429.17,476.74 L429.53,476.74 L429.9,476.73 L430.27,476.73 L430.63,476.73 L431,476.72 L431.37,476.72 L431.73,476.72 L432.1,476.71 L432.47,476.71 L432.83,476.7 L433.2,476.7 L433.57,476.7 L433.93,476.69 L434.3,476.69 L434.67,476.69 L435.03,476.68 L435.4,476.68 L435.77,476.68 L436.13,476.67 L436.5,476.67 L436.87,476.66 L437.23,476.66 L437.6,476.66 L437.97,476.65 L438.33,476.65 L438.7,476.64 L439.07,476.64 L439.43,476.63 L439.8,476.63 L440.17,476.63 L440.53,476.62 L440.9,476.62 L441.27,476.61 L441.63,476.61 L442,476.6 L442.37,476.6 L442.73,476.59 L443.1,476.59 L443.47,476.58 L443.83,476.58 L444.2,476.57 L444.57,476.57 L444.93,476.56 L445.3,476.56 L445.67,476.55 L446.03,476.55 L446.4,476.54 L446.77,476.54 L447.13,476.53 L447.5,476.53 L447.87,476.52 L448.23,476.51 L448.6,476.51 L448.97,476.5 L449.33,476.5 L449.7,476.49 L450.07,476.48 L450.43,476.48 L450.8,476.47 L451.17,476.47 L451.53,476.46 L451.9,476.45 L452.27,476.45 L452.63,476.44 L453,476.43 L453.37,476.43 L453.73,476.42 L454.1,476.41 L454.47,476.4 L454.83,476.4 L455.2,476.39 L455.57,476.38 L455.93,476.37 L456.3,476.37 L456.67,476.36 L457.03,476.35 L457.4,476.34 L457.77,476.33 L458.13,476.33 L458.5,476.32 L458.87,476.31 L459.23,476.3 L459.6,476.29 L459.97,476.28 L460.33,476.27 L460.7,476.27 L461.07,476.26 L461.43,476.25 L461.8,476.24 L462.17,476.23 L462.53,476.22 L462.9,476.21 L463.27,476.2 L463.63,476.19 L464,476.18 L464.37,476.17 L464.73,476.16 L465.1,476.14 L465.47,476.13 L465.83,476.12 L466.2,476.11 L466.57,476.1 L466.93,476.09 L467.3,476.08 L467.66,476.06 L468.03,476.05 L468.4,476.04 L468.76,476.03 L469.13,476.01 L469.5,476 L469.86,475.99 L470.23,475.97 L470.6,475.96 L470.96,475.94 L471.33,475.93 L471.7,475.91 L472.06,475.9 L472.43,475.88 L472.8,475.87 L473.16,475.85 L473.53,475.84 L473.9,475.82 L474.26,475.8 L474.63,475.79 L475,475.77 L475.36,475.75 L475.73,475.73 L476.1,475.72 L476.46,475.7 L476.83,475.68 L477.2,475.66 L477.56,475.64 L477.93,475.62 L478.3,475.6 L478.66,475.58 L479.03,475.56 L479.4,475.54 L479.76,475.51 L480.13,475.49 L480.5,475.47 L480.86,475.45 L481.23,475.42 L481.6,475.4 L481.96,475.37 L482.33,475.35 L482.7,475.32 L483.06,475.3 L483.43,475.27 L483.8,475.24 L484.16,475.21 L484.53,475.19 L484.9,475.16 L485.26,475.13 L485.63,475.1 L486,475.06 L486.36,475.03 L486.73,475 L487.1,474.97 L487.46,474.93 L487.83,474.9 L488.2,474.86 L488.56,474.83 L488.93,474.79 L489.3,474.75 L489.66,474.71 L490.03,474.67 L490.4,474.63 L490.76,474.59 L491.13,474.54 L491.5,474.5 L491.86,474.45 L492.23,474.41 L492.6,474.36 L492.96,474.31 L493.33,474.26 L493.7,474.21 L494.06,474.16 L494.43,474.1 L494.8,474.05 L495.16,473.99 L495.53,473.93 L495.9,473.87 L496.26,473.81 L496.63,473.74 L497,473.68 L497.36,473.61 L497.73,473.54 L498.1,473.47 L498.46,473.4 L498.83,473.32 L499.2,473.24 L499.56,473.16 L499.93,473.08 L500.3,473 L500.66,472.91 L501.03,472.82 L501.4,472.72 L501.76,472.63 L502.13,472.53 L502.5,472.43 L502.86,472.32 L503.23,472.21 L503.6,472.1 L503.96,471.98 L504.33,471.86 L504.7,471.73 L505.06,471.6 L505.43,471.47 L505.8,471.33 L506.16,471.19 L506.53,471.04 L506.9,470.88 L507.26,470.72 L507.63,470.55 L508,470.38 L508.36,470.2 L508.73,470.01 L509.1,469.82 L509.46,469.61 L509.83,469.4 L510.2,469.18 L510.56,468.96 L510.93,468.72 L511.3,468.47 L511.66,468.21 L512.03,467.94 L512.4,467.66 L512.76,467.36 L513.13,467.05 L513.5,466.73 L513.86,466.39 L514.23,466.03 L514.6,465.66 L514.96,465.27 L515.33,464.86 L515.7,464.43 L516.06,463.98 L516.43,463.5 L516.8,463 L517.16,462.47 L517.53,461.92 L517.9,461.33 L518.26,460.71 L518.63,460.05 L519,459.36 L519.36,458.63 L519.73,457.85 L520.1,457.03 L520.46,456.16 L520.83,455.23 L521.2,454.25 L521.56,453.2 L521.93,452.09 L522.3,450.9 L522.66,449.64 L523.03,448.29 L523.4,446.85 L523.76,445.32 L524.13,443.68 L524.5,441.92 L524.86,440.05 L525.23,438.04 L525.6,435.89 L525.96,433.6 L526.33,431.14 L526.7,428.51 L527.06,425.71 L527.43,422.71 L527.8,419.53 L528.16,416.14 L528.53,412.54 L528.9,408.74 L529.26,404.74 L529.63,400.55 L530,396.18 L530.36,391.68 L530.73,387.06 L531.1,382.4 L531.46,377.73 L531.83,373.16 L532.2,368.75 L532.56,364.63 L532.93,360.88 L533.3,357.62 L533.66,354.96 L534.03,352.99 L534.4,351.78 L534.76,351.37 L535.13,351.78 L535.5,353 L535.86,354.98 L536.23,357.64 L536.6,360.9 L536.96,364.65 L537.33,368.78 L537.7,373.18 L538.06,377.76 L538.43,382.42 L538.8,387.09 L539.16,391.7 L539.53,396.21 L539.9,400.57 L540.26,404.76 L540.63,408.76 L541,412.56 L541.36,416.16 L541.73,419.55 L542.1,422.73 L542.46,425.73 L542.83,428.53 L543.2,431.15 L543.56,433.61 L543.93,435.9 L544.3,438.05 L544.66,440.06 L545.03,441.93 L545.4,443.69 L545.76,445.33 L546.13,446.86 L546.5,448.3 L546.86,449.65 L547.23,450.91 L547.6,452.09 L547.96,453.21 L548.33,454.25 L548.7,455.24 L549.06,456.16 L549.43,457.04 L549.8,457.86 L550.16,458.63 L550.53,459.37 L550.9,460.06 L551.26,460.71 L551.63,461.33 L552,461.92 L552.36,462.48 L552.73,463 L553.1,463.5 L553.46,463.98 L553.83,464.43 L554.2,464.86 L554.56,465.27 L554.93,465.66 L555.3,466.04 L555.66,466.39 L556.03,466.73 L556.4,467.05 L556.76,467.36 L557.13,467.66 L557.5,467.94 L557.86,468.21 L558.23,468.47 L558.6,468.72 L558.96,468.96 L559.33,469.19 L559.7,469.41 L560.06,469.62 L560.43,469.82 L560.8,470.01 L561.16,470.2 L561.53,470.38 L561.9,470.55 L562.26,470.72 L562.63,470.88 L563,471.04 L563.36,471.19 L563.73,471.33 L564.1,471.47 L564.46,471.6 L564.83,471.73 L565.2,471.86 L565.56,471.98 L565.93,472.1 L566.3,472.21 L566.66,472.32 L567.03,472.43 L567.4,472.53 L567.76,472.63 L568.13,472.73 L568.5,472.82 L568.86,472.91 L569.23,473 L569.6,473.08 L569.96,473.16 L570.33,473.24 L570.7,473.32 L571.06,473.4 L571.43,473.47 L571.8,473.54 L572.16,473.61 L572.53,473.68 L572.9,473.75 L573.26,473.81 L573.63,473.87 L573.99,473.93 L574.36,473.99 L574.73,474.05 L575.09,474.1 L575.46,474.16 L575.83,474.21 L576.19,474.26 L576.56,474.31 L576.93,474.36 L577.29,474.41 L577.66,474.45 L578.03,474.5 L578.39,474.54 L578.76,474.59 L579.13,474.63 L579.49,474.67 L579.86,474.71 L580.23,474.75 L580.59,474.79 L580.96,474.83 L581.33,474.86 L581.69,474.9 L582.06,474.93 L582.43,474.97 L582.79,475 L583.16,475.03 L583.53,475.06 L583.89,475.1 L584.26,475.13 L584.63,475.16 L584.99,475.19 L585.36,475.21 L585.73,475.24 L586.09,475.27 L586.46,475.3 L586.83,475.32 L587.19,475.35 L587.56,475.37 L587.93,475.4 L588.29,475.42 L588.66,475.45 L589.03,475.47 L589.39,475.49 L589.76,475.52 L590.13,475.54 L590.49,475.56 L590.86,475.58 L591.23,475.6 L591.59,475.62 L591.96,475.64 L592.33,475.66 L592.69,475.68 L593.06,475.7 L593.43,475.72 L593.79,475.73 L594.16,475.75 L594.53,475.77 L594.89,475.79 L595.26,475.8 L595.63,475.82 L595.99,475.84 L596.36,475.85 L596.73,475.87 L597.09,475.88 L597.46,475.9 L597.83,475.91 L598.19,475.93 L598.56,475.94 L598.93,475.96 L599.29,475.97 L599.66,475.99 L600.03,476 L600.39,476.01 L600.76,476.03 L601.13,476.04 L601.49,476.05 L601.86,476.06 L602.23,476.08 L602.59,476.09 L602.96,476.1 L603.33,476.11 L603.69,476.12 L604.06,476.13 L604.43,476.14 L604.79,476.16 L605.16,476.17 L605.53,476.18 L605.89,476.19 L606.26,476.2 L606.63,476.21 L606.99,476.22 L607.36,476.23 L607.73,476.24 L608.09,476.25 L608.46,476.26 L608.83,476.27 L609.19,476.27 L609.56,476.28 L609.93,476.29 L610.29,476.3 L610.66,476.31 L611.03,476.32 L611.39,476.33 L611.76,476.33 L612.13,476.34 L612.49,476.35 L612.86,476.36 L613.23,476.37 L613.59,476.37 L613.96,476.38 L614.33,476.39 L614.69,476.4 L615.06,476.4 L615.43,476.41 L615.79,476.42 L616.16,476.43 L616.53,476.43 L616.89,476.44 L617.26,476.45 L617.63,476.45 L617.99,476.46 L618.36,476.47 L618.73,476.47 L619.09,476.48 L619.46,476.48 L619.83,476.49 L620.19,476.5 L620.56,476.5 L620.93,476.51 L621.29,476.51 L621.66,476.52 L622.03,476.53 L622.39,476.53 L622.76,476.54 L623.13,476.54 L623.49,476.55 L623.86,476.55 L624.23,476.56 L624.59,476.56 L624.96,476.57 L625.33,476.57 L625.69,476.58 L626.06,476.58 L626.43,476.59 L626.79,476.59 L627.16,476.6 L627.53,476.6 L627.89,476.61 L628.26,476.61 L628.63,476.62 L628.99,476.62 L629.36,476.63 L629.73,476.63 L630.09,476.63 L630.46,476.64 L630.83,476.64 L631.19,476.65 L631.56,476.65 L631.93,476.66 L632.29,476.66 L632.66,476.66 L633.03,476.67 L633.39,476.67 L633.76,476.68 L634.13,476.68 L634.49,476.68 L634.86,476.69 L635.23,476.69 L635.59,476.69 L635.96,476.7 L636.33,476.7 L636.69,476.7 L637.06,476.71 L637.43,476.71 L637.79,476.72 L638.16,476.72 L638.53,476.72 L638.89,476.73 L639.26,476.73 L639.63,476.73 L639.99,476.74 L640.36,476.74 L640.73,476.74 L641.09,476.74 L641.46,476.75 L641.83,476.75 L642.19,476.75 L642.56,476.76 L642.93,476.76 L643.29,476.76 L643.66,476.77 L644.03,476.77 L644.39,476.77 L644.76,476.77 L645.13,476.78 L645.49,476.78 L645.86,476.78 L646.23,476.79 L646.59,476.79 L646.96,476.79 L647.33,476.79 L647.69,476.8 L648.06,476.8 L648.43,476.8 L648.79,476.8 L649.16,476.81 L649.53,476.81 L649.89,476.81 L650.26,476.81 L650.63,476.82 L650.99,476.82 L651.36,476.82 L651.73,476.82 L652.09,476.83 L652.46,476.83 L652.83,476.83 L653.19,476.83 L653.56,476.84 L653.93,476.84 L654.29,476.84 L654.66,476.84 L655.03,476.84 L655.39,476.85 L655.76,476.85 L656.13,476.85 L656.49,476.85 L656.86,476.85 L657.23,476.86 L657.59,476.86 L657.96,476.86 L658.33,476.86 L658.69,476.86 L659.06,476.87 L659.43,476.87 L659.79,476.87 L660.16,476.87 L660.53,476.87 L660.89,476.88 L661.26,476.88 L661.63,476.88 L661.99,476.88 L662.36,476.88 L662.73,476.89 L663.09,476.89 L663.46,476.89 L663.83,476.89 L664.19,476.89 L664.56,476.89 L664.93,476.9 L665.29,476.9 L665.66,476.9 L666.03,476.9 L666.39,476.9 L666.76,476.9 L667.13,476.91 L667.49,476.91 L667.86,476.91 L668.23,476.91 L668.59,476.91 L668.96,476.91 L669.33,476.92 L669.69,476.92 L669.69,477.2 L413.4,477.2 Z" fill="rgba(240,185,160,0.62)"/><path d="M413.4,477.18 L413.77,477.18 L414.13,477.18 L414.5,477.18 L414.87,477.18 L415.23,477.18 L415.6,477.18 L415.97,477.18 L416.33,477.18 L416.7,477.18 L417.07,477.18 L417.43,477.18 L417.8,477.18 L418.17,477.18 L418.53,477.18 L418.9,477.18 L419.27,477.18 L419.63,477.18 L420,477.18 L420.37,477.18 L420.73,477.18 L421.1,477.18 L421.47,477.18 L421.83,477.18 L422.2,477.18 L422.57,477.18 L422.93,477.18 L423.3,477.18 L423.67,477.18 L424.03,477.18 L424.4,477.18 L424.77,477.18 L425.13,477.18 L425.5,477.17 L425.87,477.17 L426.23,477.17 L426.6,477.17 L426.97,477.17 L427.33,477.17 L427.7,477.17 L428.07,477.17 L428.43,477.17 L428.8,477.17 L429.17,477.17 L429.53,477.17 L429.9,477.17 L430.27,477.17 L430.63,477.17 L431,477.17 L431.37,477.17 L431.73,477.17 L432.1,477.17 L432.47,477.17 L432.83,477.17 L433.2,477.17 L433.57,477.17 L433.93,477.17 L434.3,477.17 L434.67,477.17 L435.03,477.17 L435.4,477.17 L435.77,477.17 L436.13,477.17 L436.5,477.17 L436.87,477.17 L437.23,477.17 L437.6,477.17 L437.97,477.17 L438.33,477.17 L438.7,477.17 L439.07,477.17 L439.43,477.17 L439.8,477.17 L440.17,477.17 L440.53,477.17 L440.9,477.17 L441.27,477.17 L441.63,477.17 L442,477.17 L442.37,477.17 L442.73,477.17 L443.1,477.16 L443.47,477.16 L443.83,477.16 L444.2,477.16 L444.57,477.16 L444.93,477.16 L445.3,477.16 L445.67,477.16 L446.03,477.16 L446.4,477.16 L446.77,477.16 L447.13,477.16 L447.5,477.16 L447.87,477.16 L448.23,477.16 L448.6,477.16 L448.97,477.16 L449.33,477.16 L449.7,477.16 L450.07,477.16 L450.43,477.16 L450.8,477.16 L451.17,477.16 L451.53,477.16 L451.9,477.16 L452.27,477.16 L452.63,477.16 L453,477.16 L453.37,477.16 L453.73,477.16 L454.1,477.16 L454.47,477.16 L454.83,477.15 L455.2,477.15 L455.57,477.15 L455.93,477.15 L456.3,477.15 L456.67,477.15 L457.03,477.15 L457.4,477.15 L457.77,477.15 L458.13,477.15 L458.5,477.15 L458.87,477.15 L459.23,477.15 L459.6,477.15 L459.97,477.15 L460.33,477.15 L460.7,477.15 L461.07,477.15 L461.43,477.15 L461.8,477.15 L462.17,477.15 L462.53,477.15 L462.9,477.14 L463.27,477.14 L463.63,477.14 L464,477.14 L464.37,477.14 L464.73,477.14 L465.1,477.14 L465.47,477.14 L465.83,477.14 L466.2,477.14 L466.57,477.14 L466.93,477.14 L467.3,477.14 L467.66,477.14 L468.03,477.14 L468.4,477.14 L468.76,477.14 L469.13,477.13 L469.5,477.13 L469.86,477.13 L470.23,477.13 L470.6,477.13 L470.96,477.13 L471.33,477.13 L471.7,477.13 L472.06,477.13 L472.43,477.13 L472.8,477.13 L473.16,477.13 L473.53,477.13 L473.9,477.13 L474.26,477.12 L474.63,477.12 L475,477.12 L475.36,477.12 L475.73,477.12 L476.1,477.12 L476.46,477.12 L476.83,477.12 L477.2,477.12 L477.56,477.12 L477.93,477.12 L478.3,477.11 L478.66,477.11 L479.03,477.11 L479.4,477.11 L479.76,477.11 L480.13,477.11 L480.5,477.11 L480.86,477.11 L481.23,477.11 L481.6,477.1 L481.96,477.1 L482.33,477.1 L482.7,477.1 L483.06,477.1 L483.43,477.1 L483.8,477.1 L484.16,477.1 L484.53,477.09 L484.9,477.09 L485.26,477.09 L485.63,477.09 L486,477.09 L486.36,477.09 L486.73,477.09 L487.1,477.08 L487.46,477.08 L487.83,477.08 L488.2,477.08 L488.56,477.08 L488.93,477.08 L489.3,477.07 L489.66,477.07 L490.03,477.07 L490.4,477.07 L490.76,477.07 L491.13,477.06 L491.5,477.06 L491.86,477.06 L492.23,477.06 L492.6,477.06 L492.96,477.05 L493.33,477.05 L493.7,477.05 L494.06,477.05 L494.43,477.04 L494.8,477.04 L495.16,477.04 L495.53,477.04 L495.9,477.03 L496.26,477.03 L496.63,477.03 L497,477.03 L497.36,477.02 L497.73,477.02 L498.1,477.02 L498.46,477.01 L498.83,477.01 L499.2,477.01 L499.56,477 L499.93,477 L500.3,477 L500.66,476.99 L501.03,476.99 L501.4,476.98 L501.76,476.98 L502.13,476.98 L502.5,476.97 L502.86,476.97 L503.23,476.96 L503.6,476.96 L503.96,476.95 L504.33,476.95 L504.7,476.94 L505.06,476.94 L505.43,476.93 L505.8,476.93 L506.16,476.92 L506.53,476.91 L506.9,476.91 L507.26,476.9 L507.63,476.9 L508,476.89 L508.36,476.88 L508.73,476.87 L509.1,476.87 L509.46,476.86 L509.83,476.85 L510.2,476.84 L510.56,476.83 L510.93,476.82 L511.3,476.82 L511.66,476.81 L512.03,476.8 L512.4,476.79 L512.76,476.77 L513.13,476.76 L513.5,476.75 L513.86,476.74 L514.23,476.73 L514.6,476.71 L514.96,476.7 L515.33,476.68 L515.7,476.67 L516.06,476.65 L516.43,476.64 L516.8,476.62 L517.16,476.6 L517.53,476.58 L517.9,476.56 L518.26,476.54 L518.63,476.52 L519,476.5 L519.36,476.47 L519.73,476.45 L520.1,476.42 L520.46,476.39 L520.83,476.36 L521.2,476.33 L521.56,476.3 L521.93,476.27 L522.3,476.23 L522.66,476.19 L523.03,476.15 L523.4,476.1 L523.76,476.06 L524.13,476.01 L524.5,475.95 L524.86,475.9 L525.23,475.84 L525.6,475.77 L525.96,475.7 L526.33,475.62 L526.7,475.54 L527.06,475.46 L527.43,475.36 L527.8,475.26 L528.16,475.15 L528.53,475.03 L528.9,474.9 L529.26,474.75 L529.63,474.6 L530,474.43 L530.36,474.24 L530.73,474.03 L531.1,473.8 L531.46,473.54 L531.83,473.26 L532.2,472.94 L532.56,472.58 L532.93,472.18 L533.3,471.72 L533.66,471.21 L534.03,470.62 L534.4,469.94 L534.76,469.16 L535.13,468.26 L535.5,467.22 L535.86,466 L536.23,464.57 L536.6,462.89 L536.96,460.92 L537.33,458.59 L537.7,455.86 L538.06,452.68 L538.43,449.05 L538.8,445.01 L539.16,440.72 L539.53,436.5 L539.9,432.81 L540.26,430.23 L540.63,429.27 L541,430.11 L541.36,432.6 L541.73,436.23 L542.1,440.44 L542.46,444.73 L542.83,448.8 L543.2,452.46 L543.56,455.66 L543.93,458.42 L544.3,460.78 L544.66,462.77 L545.03,464.47 L545.4,465.91 L545.76,467.15 L546.13,468.2 L546.5,469.11 L546.86,469.89 L547.23,470.57 L547.6,471.17 L547.96,471.69 L548.33,472.15 L548.7,472.55 L549.06,472.92 L549.43,473.24 L549.8,473.52 L550.16,473.78 L550.53,474.01 L550.9,474.22 L551.26,474.41 L551.63,474.59 L552,474.74 L552.36,474.89 L552.73,475.02 L553.1,475.14 L553.46,475.25 L553.83,475.36 L554.2,475.45 L554.56,475.54 L554.93,475.62 L555.3,475.7 L555.66,475.77 L556.03,475.83 L556.4,475.89 L556.76,475.95 L557.13,476 L557.5,476.05 L557.86,476.1 L558.23,476.15 L558.6,476.19 L558.96,476.23 L559.33,476.26 L559.7,476.3 L560.06,476.33 L560.43,476.36 L560.8,476.39 L561.16,476.42 L561.53,476.45 L561.9,476.47 L562.26,476.5 L562.63,476.52 L563,476.54 L563.36,476.56 L563.73,476.58 L564.1,476.6 L564.46,476.62 L564.83,476.64 L565.2,476.65 L565.56,476.67 L565.93,476.68 L566.3,476.7 L566.66,476.71 L567.03,476.73 L567.4,476.74 L567.76,476.75 L568.13,476.76 L568.5,476.77 L568.86,476.78 L569.23,476.8 L569.6,476.81 L569.96,476.81 L570.33,476.82 L570.7,476.83 L571.06,476.84 L571.43,476.85 L571.8,476.86 L572.16,476.87 L572.53,476.87 L572.9,476.88 L573.26,476.89 L573.63,476.9 L573.99,476.9 L574.36,476.91 L574.73,476.91 L575.09,476.92 L575.46,476.93 L575.83,476.93 L576.19,476.94 L576.56,476.94 L576.93,476.95 L577.29,476.95 L577.66,476.96 L578.03,476.96 L578.39,476.97 L578.76,476.97 L579.13,476.98 L579.49,476.98 L579.86,476.98 L580.23,476.99 L580.59,476.99 L580.96,477 L581.33,477 L581.69,477 L582.06,477.01 L582.43,477.01 L582.79,477.01 L583.16,477.02 L583.53,477.02 L583.89,477.02 L584.26,477.03 L584.63,477.03 L584.99,477.03 L585.36,477.03 L585.73,477.04 L586.09,477.04 L586.46,477.04 L586.83,477.04 L587.19,477.05 L587.56,477.05 L587.93,477.05 L588.29,477.05 L588.66,477.06 L589.03,477.06 L589.39,477.06 L589.76,477.06 L590.13,477.06 L590.49,477.07 L590.86,477.07 L591.23,477.07 L591.59,477.07 L591.96,477.07 L592.33,477.08 L592.69,477.08 L593.06,477.08 L593.43,477.08 L593.79,477.08 L594.16,477.08 L594.53,477.09 L594.89,477.09 L595.26,477.09 L595.63,477.09 L595.99,477.09 L596.36,477.09 L596.73,477.09 L597.09,477.1 L597.46,477.1 L597.83,477.1 L598.19,477.1 L598.56,477.1 L598.93,477.1 L599.29,477.1 L599.66,477.1 L600.03,477.11 L600.39,477.11 L600.76,477.11 L601.13,477.11 L601.49,477.11 L601.86,477.11 L602.23,477.11 L602.59,477.11 L602.96,477.11 L603.33,477.12 L603.69,477.12 L604.06,477.12 L604.43,477.12 L604.79,477.12 L605.16,477.12 L605.53,477.12 L605.89,477.12 L606.26,477.12 L606.63,477.12 L606.99,477.12 L607.36,477.13 L607.73,477.13 L608.09,477.13 L608.46,477.13 L608.83,477.13 L609.19,477.13 L609.56,477.13 L609.93,477.13 L610.29,477.13 L610.66,477.13 L611.03,477.13 L611.39,477.13 L611.76,477.13 L612.13,477.13 L612.49,477.14 L612.86,477.14 L613.23,477.14 L613.59,477.14 L613.96,477.14 L614.33,477.14 L614.69,477.14 L615.06,477.14 L615.43,477.14 L615.79,477.14 L616.16,477.14 L616.53,477.14 L616.89,477.14 L617.26,477.14 L617.63,477.14 L617.99,477.14 L618.36,477.14 L618.73,477.15 L619.09,477.15 L619.46,477.15 L619.83,477.15 L620.19,477.15 L620.56,477.15 L620.93,477.15 L621.29,477.15 L621.66,477.15 L622.03,477.15 L622.39,477.15 L622.76,477.15 L623.13,477.15 L623.49,477.15 L623.86,477.15 L624.23,477.15 L624.59,477.15 L624.96,477.15 L625.33,477.15 L625.69,477.15 L626.06,477.15 L626.43,477.15 L626.79,477.16 L627.16,477.16 L627.53,477.16 L627.89,477.16 L628.26,477.16 L628.63,477.16 L628.99,477.16 L629.36,477.16 L629.73,477.16 L630.09,477.16 L630.46,477.16 L630.83,477.16 L631.19,477.16 L631.56,477.16 L631.93,477.16 L632.29,477.16 L632.66,477.16 L633.03,477.16 L633.39,477.16 L633.76,477.16 L634.13,477.16 L634.49,477.16 L634.86,477.16 L635.23,477.16 L635.59,477.16 L635.96,477.16 L636.33,477.16 L636.69,477.16 L637.06,477.16 L637.43,477.16 L637.79,477.16 L638.16,477.16 L638.53,477.17 L638.89,477.17 L639.26,477.17 L639.63,477.17 L639.99,477.17 L640.36,477.17 L640.73,477.17 L641.09,477.17 L641.46,477.17 L641.83,477.17 L642.19,477.17 L642.56,477.17 L642.93,477.17 L643.29,477.17 L643.66,477.17 L644.03,477.17 L644.39,477.17 L644.76,477.17 L645.13,477.17 L645.49,477.17 L645.86,477.17 L646.23,477.17 L646.59,477.17 L646.96,477.17 L647.33,477.17 L647.69,477.17 L648.06,477.17 L648.43,477.17 L648.79,477.17 L649.16,477.17 L649.53,477.17 L649.89,477.17 L650.26,477.17 L650.63,477.17 L650.99,477.17 L651.36,477.17 L651.73,477.17 L652.09,477.17 L652.46,477.17 L652.83,477.17 L653.19,477.17 L653.56,477.17 L653.93,477.17 L654.29,477.17 L654.66,477.17 L655.03,477.17 L655.39,477.17 L655.76,477.17 L656.13,477.17 L656.49,477.18 L656.86,477.18 L657.23,477.18 L657.59,477.18 L657.96,477.18 L658.33,477.18 L658.69,477.18 L659.06,477.18 L659.43,477.18 L659.79,477.18 L660.16,477.18 L660.53,477.18 L660.89,477.18 L661.26,477.18 L661.63,477.18 L661.99,477.18 L662.36,477.18 L662.73,477.18 L663.09,477.18 L663.46,477.18 L663.83,477.18 L664.19,477.18 L664.56,477.18 L664.93,477.18 L665.29,477.18 L665.66,477.18 L666.03,477.18 L666.39,477.18 L666.76,477.18 L667.13,477.18 L667.49,477.18 L667.86,477.18 L668.23,477.18 L668.59,477.18 L668.96,477.18 L669.33,477.18 L669.69,477.18 L669.69,477.2 L413.4,477.2 Z" fill="rgba(205,80,145,0.5)"/><path d="M413.4,477.19 L413.77,477.19 L414.13,477.19 L414.5,477.19 L414.87,477.19 L415.23,477.19 L415.6,477.19 L415.97,477.19 L416.33,477.19 L416.7,477.19 L417.07,477.19 L417.43,477.19 L417.8,477.19 L418.17,477.19 L418.53,477.19 L418.9,477.19 L419.27,477.19 L419.63,477.19 L420,477.19 L420.37,477.19 L420.73,477.19 L421.1,477.19 L421.47,477.19 L421.83,477.19 L422.2,477.19 L422.57,477.19 L422.93,477.19 L423.3,477.19 L423.67,477.19 L424.03,477.19 L424.4,477.19 L424.77,477.19 L425.13,477.19 L425.5,477.19 L425.87,477.19 L426.23,477.19 L426.6,477.19 L426.97,477.19 L427.33,477.19 L427.7,477.19 L428.07,477.19 L428.43,477.19 L428.8,477.19 L429.17,477.19 L429.53,477.19 L429.9,477.19 L430.27,477.19 L430.63,477.19 L431,477.19 L431.37,477.19 L431.73,477.19 L432.1,477.19 L432.47,477.19 L432.83,477.19 L433.2,477.19 L433.57,477.19 L433.93,477.19 L434.3,477.19 L434.67,477.19 L435.03,477.19 L435.4,477.19 L435.77,477.19 L436.13,477.19 L436.5,477.19 L436.87,477.19 L437.23,477.19 L437.6,477.19 L437.97,477.19 L438.33,477.19 L438.7,477.19 L439.07,477.19 L439.43,477.19 L439.8,477.19 L440.17,477.19 L440.53,477.19 L440.9,477.19 L441.27,477.19 L441.63,477.19 L442,477.19 L442.37,477.19 L442.73,477.19 L443.1,477.19 L443.47,477.19 L443.83,477.19 L444.2,477.19 L444.57,477.19 L444.93,477.19 L445.3,477.19 L445.67,477.19 L446.03,477.19 L446.4,477.19 L446.77,477.19 L447.13,477.19 L447.5,477.19 L447.87,477.19 L448.23,477.19 L448.6,477.19 L448.97,477.19 L449.33,477.19 L449.7,477.19 L450.07,477.19 L450.43,477.19 L450.8,477.19 L451.17,477.19 L451.53,477.19 L451.9,477.19 L452.27,477.19 L452.63,477.19 L453,477.19 L453.37,477.19 L453.73,477.19 L454.1,477.19 L454.47,477.19 L454.83,477.19 L455.2,477.19 L455.57,477.19 L455.93,477.19 L456.3,477.19 L456.67,477.19 L457.03,477.19 L457.4,477.19 L457.77,477.19 L458.13,477.19 L458.5,477.19 L458.87,477.19 L459.23,477.19 L459.6,477.19 L459.97,477.19 L460.33,477.19 L460.7,477.19 L461.07,477.19 L461.43,477.19 L461.8,477.19 L462.17,477.19 L462.53,477.19 L462.9,477.19 L463.27,477.19 L463.63,477.19 L464,477.19 L464.37,477.19 L464.73,477.19 L465.1,477.19 L465.47,477.19 L465.83,477.19 L466.2,477.19 L466.57,477.19 L466.93,477.19 L467.3,477.19 L467.66,477.19 L468.03,477.19 L468.4,477.19 L468.76,477.19 L469.13,477.19 L469.5,477.19 L469.86,477.19 L470.23,477.19 L470.6,477.19 L470.96,477.19 L471.33,477.19 L471.7,477.19 L472.06,477.19 L472.43,477.19 L472.8,477.19 L473.16,477.19 L473.53,477.19 L473.9,477.19 L474.26,477.19 L474.63,477.19 L475,477.19 L475.36,477.19 L475.73,477.19 L476.1,477.19 L476.46,477.19 L476.83,477.19 L477.2,477.19 L477.56,477.19 L477.93,477.19 L478.3,477.19 L478.66,477.19 L479.03,477.19 L479.4,477.19 L479.76,477.19 L480.13,477.19 L480.5,477.19 L480.86,477.19 L481.23,477.19 L481.6,477.19 L481.96,477.19 L482.33,477.19 L482.7,477.19 L483.06,477.19 L483.43,477.19 L483.8,477.19 L484.16,477.19 L484.53,477.19 L484.9,477.19 L485.26,477.19 L485.63,477.19 L486,477.19 L486.36,477.19 L486.73,477.19 L487.1,477.19 L487.46,477.19 L487.83,477.19 L488.2,477.19 L488.56,477.19 L488.93,477.19 L489.3,477.19 L489.66,477.19 L490.03,477.19 L490.4,477.19 L490.76,477.19 L491.13,477.18 L491.5,477.18 L491.86,477.18 L492.23,477.18 L492.6,477.18 L492.96,477.18 L493.33,477.18 L493.7,477.18 L494.06,477.18 L494.43,477.18 L494.8,477.18 L495.16,477.18 L495.53,477.18 L495.9,477.18 L496.26,477.18 L496.63,477.18 L497,477.18 L497.36,477.18 L497.73,477.18 L498.1,477.18 L498.46,477.18 L498.83,477.18 L499.2,477.18 L499.56,477.18 L499.93,477.18 L500.3,477.18 L500.66,477.18 L501.03,477.18 L501.4,477.18 L501.76,477.18 L502.13,477.18 L502.5,477.18 L502.86,477.18 L503.23,477.18 L503.6,477.18 L503.96,477.18 L504.33,477.18 L504.7,477.18 L505.06,477.18 L505.43,477.18 L505.8,477.18 L506.16,477.18 L506.53,477.18 L506.9,477.18 L507.26,477.18 L507.63,477.18 L508,477.18 L508.36,477.18 L508.73,477.18 L509.1,477.18 L509.46,477.18 L509.83,477.18 L510.2,477.18 L510.56,477.18 L510.93,477.18 L511.3,477.18 L511.66,477.18 L512.03,477.18 L512.4,477.18 L512.76,477.18 L513.13,477.18 L513.5,477.18 L513.86,477.18 L514.23,477.18 L514.6,477.18 L514.96,477.18 L515.33,477.18 L515.7,477.18 L516.06,477.18 L516.43,477.18 L516.8,477.18 L517.16,477.18 L517.53,477.18 L517.9,477.18 L518.26,477.18 L518.63,477.18 L519,477.18 L519.36,477.18 L519.73,477.18 L520.1,477.18 L520.46,477.18 L520.83,477.18 L521.2,477.18 L521.56,477.18 L521.93,477.18 L522.3,477.18 L522.66,477.18 L523.03,477.18 L523.4,477.18 L523.76,477.17 L524.13,477.17 L524.5,477.17 L524.86,477.17 L525.23,477.17 L525.6,477.17 L525.96,477.17 L526.33,477.17 L526.7,477.17 L527.06,477.17 L527.43,477.17 L527.8,477.17 L528.16,477.17 L528.53,477.17 L528.9,477.17 L529.26,477.17 L529.63,477.17 L530,477.17 L530.36,477.17 L530.73,477.17 L531.1,477.17 L531.46,477.17 L531.83,477.17 L532.2,477.17 L532.56,477.17 L532.93,477.17 L533.3,477.17 L533.66,477.17 L534.03,477.17 L534.4,477.17 L534.76,477.17 L535.13,477.17 L535.5,477.17 L535.86,477.17 L536.23,477.17 L536.6,477.17 L536.96,477.17 L537.33,477.17 L537.7,477.17 L538.06,477.17 L538.43,477.17 L538.8,477.17 L539.16,477.17 L539.53,477.17 L539.9,477.17 L540.26,477.17 L540.63,477.17 L541,477.17 L541.36,477.16 L541.73,477.16 L542.1,477.16 L542.46,477.16 L542.83,477.16 L543.2,477.16 L543.56,477.16 L543.93,477.16 L544.3,477.16 L544.66,477.16 L545.03,477.16 L545.4,477.16 L545.76,477.16 L546.13,477.16 L546.5,477.16 L546.86,477.16 L547.23,477.16 L547.6,477.16 L547.96,477.16 L548.33,477.16 L548.7,477.16 L549.06,477.16 L549.43,477.16 L549.8,477.16 L550.16,477.16 L550.53,477.16 L550.9,477.16 L551.26,477.16 L551.63,477.16 L552,477.16 L552.36,477.15 L552.73,477.15 L553.1,477.15 L553.46,477.15 L553.83,477.15 L554.2,477.15 L554.56,477.15 L554.93,477.15 L555.3,477.15 L555.66,477.15 L556.03,477.15 L556.4,477.15 L556.76,477.15 L557.13,477.15 L557.5,477.15 L557.86,477.15 L558.23,477.15 L558.6,477.15 L558.96,477.15 L559.33,477.15 L559.7,477.15 L560.06,477.15 L560.43,477.14 L560.8,477.14 L561.16,477.14 L561.53,477.14 L561.9,477.14 L562.26,477.14 L562.63,477.14 L563,477.14 L563.36,477.14 L563.73,477.14 L564.1,477.14 L564.46,477.14 L564.83,477.14 L565.2,477.14 L565.56,477.14 L565.93,477.14 L566.3,477.14 L566.66,477.13 L567.03,477.13 L567.4,477.13 L567.76,477.13 L568.13,477.13 L568.5,477.13 L568.86,477.13 L569.23,477.13 L569.6,477.13 L569.96,477.13 L570.33,477.13 L570.7,477.13 L571.06,477.13 L571.43,477.12 L571.8,477.12 L572.16,477.12 L572.53,477.12 L572.9,477.12 L573.26,477.12 L573.63,477.12 L573.99,477.12 L574.36,477.12 L574.73,477.12 L575.09,477.12 L575.46,477.11 L575.83,477.11 L576.19,477.11 L576.56,477.11 L576.93,477.11 L577.29,477.11 L577.66,477.11 L578.03,477.11 L578.39,477.11 L578.76,477.1 L579.13,477.1 L579.49,477.1 L579.86,477.1 L580.23,477.1 L580.59,477.1 L580.96,477.1 L581.33,477.09 L581.69,477.09 L582.06,477.09 L582.43,477.09 L582.79,477.09 L583.16,477.09 L583.53,477.09 L583.89,477.08 L584.26,477.08 L584.63,477.08 L584.99,477.08 L585.36,477.08 L585.73,477.08 L586.09,477.07 L586.46,477.07 L586.83,477.07 L587.19,477.07 L587.56,477.07 L587.93,477.06 L588.29,477.06 L588.66,477.06 L589.03,477.06 L589.39,477.06 L589.76,477.05 L590.13,477.05 L590.49,477.05 L590.86,477.05 L591.23,477.04 L591.59,477.04 L591.96,477.04 L592.33,477.04 L592.69,477.03 L593.06,477.03 L593.43,477.03 L593.79,477.02 L594.16,477.02 L594.53,477.02 L594.89,477.01 L595.26,477.01 L595.63,477.01 L595.99,477 L596.36,477 L596.73,477 L597.09,476.99 L597.46,476.99 L597.83,476.98 L598.19,476.98 L598.56,476.98 L598.93,476.97 L599.29,476.97 L599.66,476.96 L600.03,476.96 L600.39,476.95 L600.76,476.95 L601.13,476.94 L601.49,476.94 L601.86,476.93 L602.23,476.93 L602.59,476.92 L602.96,476.91 L603.33,476.91 L603.69,476.9 L604.06,476.89 L604.43,476.89 L604.79,476.88 L605.16,476.87 L605.53,476.86 L605.89,476.86 L606.26,476.85 L606.63,476.84 L606.99,476.83 L607.36,476.82 L607.73,476.81 L608.09,476.8 L608.46,476.79 L608.83,476.78 L609.19,476.77 L609.56,476.76 L609.93,476.74 L610.29,476.73 L610.66,476.72 L611.03,476.7 L611.39,476.69 L611.76,476.67 L612.13,476.66 L612.49,476.64 L612.86,476.62 L613.23,476.6 L613.59,476.59 L613.96,476.57 L614.33,476.54 L614.69,476.52 L615.06,476.5 L615.43,476.48 L615.79,476.45 L616.16,476.42 L616.53,476.39 L616.89,476.36 L617.26,476.33 L617.63,476.3 L617.99,476.26 L618.36,476.23 L618.73,476.19 L619.09,476.14 L619.46,476.1 L619.83,476.05 L620.19,476 L620.56,475.94 L620.93,475.89 L621.29,475.82 L621.66,475.76 L622.03,475.69 L622.39,475.61 L622.76,475.53 L623.13,475.44 L623.49,475.34 L623.86,475.24 L624.23,475.13 L624.59,475 L624.96,474.87 L625.33,474.73 L625.69,474.57 L626.06,474.4 L626.43,474.21 L626.79,474 L627.16,473.77 L627.53,473.52 L627.89,473.25 L628.26,472.94 L628.63,472.6 L628.99,472.22 L629.36,471.8 L629.73,471.33 L630.09,470.8 L630.46,470.22 L630.83,469.56 L631.19,468.83 L631.56,468.02 L631.93,467.12 L632.29,466.14 L632.66,465.06 L633.03,463.91 L633.39,462.69 L633.76,461.45 L634.13,460.22 L634.49,459.07 L634.86,458.06 L635.23,457.28 L635.59,456.8 L635.96,456.66 L636.33,456.87 L636.69,457.42 L637.06,458.25 L637.43,459.29 L637.79,460.47 L638.16,461.71 L638.53,462.95 L638.89,464.15 L639.26,465.29 L639.63,466.35 L639.99,467.32 L640.36,468.2 L640.73,468.99 L641.09,469.7 L641.46,470.34 L641.83,470.92 L642.19,471.43 L642.56,471.89 L642.93,472.3 L643.29,472.67 L643.66,473 L644.03,473.31 L644.39,473.58 L644.76,473.82 L645.13,474.05 L645.49,474.25 L645.86,474.43 L646.23,474.6 L646.59,474.76 L646.96,474.9 L647.33,475.03 L647.69,475.15 L648.06,475.26 L648.43,475.36 L648.79,475.46 L649.16,475.54 L649.53,475.63 L649.89,475.7 L650.26,475.77 L650.63,475.84 L650.99,475.9 L651.36,475.96 L651.73,476.01 L652.09,476.06 L652.46,476.11 L652.83,476.15 L653.19,476.19 L653.56,476.23 L653.93,476.27 L654.29,476.31 L654.66,476.34 L655.03,476.37 L655.39,476.4 L655.76,476.43 L656.13,476.45 L656.49,476.48 L656.86,476.5 L657.23,476.53 L657.59,476.55 L657.96,476.57 L658.33,476.59 L658.69,476.61 L659.06,476.63 L659.43,476.64 L659.79,476.66 L660.16,476.68 L660.53,476.69 L660.89,476.71 L661.26,476.72 L661.63,476.73 L661.99,476.75 L662.36,476.76 L662.73,476.77 L663.09,476.78 L663.46,476.79 L663.83,476.8 L664.19,476.81 L664.56,476.82 L664.93,476.83 L665.29,476.84 L665.66,476.85 L666.03,476.86 L666.39,476.87 L666.76,476.87 L667.13,476.88 L667.49,476.89 L667.86,476.9 L668.23,476.9 L668.59,476.91 L668.96,476.91 L669.33,476.92 L669.69,476.93 L669.69,477.2 L413.4,477.2 Z" fill="rgba(140,150,215,0.5)"/><path d="M413.4,472.09 L414.81,469.15 L416.81,470.67 L419.13,469.79 L421.5,469.56 L423.65,469.45 L425.6,468.17 L427.52,469.06 L429.39,468.52 L431.18,470.87 L432.85,468.86 L434.36,468.44 L435.73,468.49 L437.02,468.24 L438.3,467.84 L439.63,467.81 L441.05,467.57 L442.51,466.13 L443.96,465.68 L445.33,463.78 L446.57,462.75 L447.64,462.38 L448.6,460.32 L449.47,458.3 L450.29,457.41 L451.09,457.32 L451.85,458.31 L452.55,457.64 L453.22,458.64 L453.88,460.55 L454.56,460.58 L455.23,462.23 L455.89,464.49 L456.56,465.91 L457.26,467.04 L458.02,468.44 L458.82,466.98 L459.64,469.65 L460.51,468.6 L461.47,468.16 L462.55,469.23 L463.78,469.27 L465.16,468.2 L466.6,467.33 L468.07,467.43 L469.48,466.81 L470.85,467.11 L472.21,466.12 L473.56,465.13 L474.91,464.94 L476.27,463.3 L477.64,461.95 L479.03,461.91 L480.41,460.84 L481.76,459.1 L483.05,457.21 L484.31,455.83 L485.55,451.83 L486.73,451.22 L487.82,448.68 L488.78,445.32 L489.56,444.52 L490.18,442.18 L490.72,441.71 L491.24,438.87 L491.8,438.82 L492.4,439.63 L492.99,440.21 L493.59,438.86 L494.2,440.63 L494.81,441.87 L495.38,442.08 L495.91,444.32 L496.46,443.62 L497.13,445.5 L497.98,445.5 L499.11,447.72 L500.48,447.57 L501.93,448.01 L503.31,447.78 L504.46,450.3 L505.31,450.2 L505.97,450.65 L506.54,451.21 L507.11,450.84 L507.78,450.02 L508.56,449.3 L509.39,448.35 L510.25,448.47 L511.13,445.46 L512,444.66 L512.84,443.63 L513.68,442.83 L514.54,441.75 L515.42,438.97 L516.37,436.36 L517.4,434.28 L518.51,431.27 L519.65,426.85 L520.76,422.23 L521.8,417.69 L522.76,413.89 L523.68,409.29 L524.56,405.58 L525.39,400.26 L526.17,396.47 L526.9,392.14 L527.57,388.48 L528.2,384.16 L528.79,381.15 L529.33,375.64 L529.82,369.97 L530.25,361.53 L530.64,356.04 L531.03,349.65 L531.45,344.84 L531.89,338.17 L532.35,335.45 L532.81,331.14 L533.26,326.36 L533.71,324.42 L534.14,323.87 L534.55,324.97 L534.97,326.8 L535.39,329.59 L535.82,330.28 L536.27,333.07 L536.75,335.36 L537.23,339.28 L537.68,341.8 L538.08,345.34 L538.39,347.2 L538.64,351.3 L538.86,354.57 L539.11,359.48 L539.44,362.21 L539.85,364.18 L540.31,366.09 L540.81,368.66 L541.33,370.55 L541.85,374.18 L542.36,380.26 L542.89,387.79 L543.43,393.12 L543.98,400.04 L544.56,406.48 L545.17,413.11 L545.8,421.2 L546.44,428.25 L547.09,434.11 L547.73,439.82 L548.32,444.26 L548.88,448.15 L549.46,450.46 L550.12,453.97 L550.89,456.89 L551.8,458.54 L552.79,460.42 L553.87,461.57 L555.04,463.03 L556.32,464.87 L557.62,465.18 L558.94,466.23 L560.39,467.59 L562.09,468.19 L564.16,469.49 L566.66,467.85 L569.52,470.19 L572.64,469.89 L575.91,470.72 L579.24,471.54 L582.76,472.02 L586.54,472.26 L590.38,471.95 L594.05,473.02 L597.33,472.07 L600.17,472.32 L602.73,473.04 L605.07,472.36 L607.27,474.1 L609.39,473.53 L611.44,474.34 L613.37,473.14 L615.18,473.03 L616.87,473.43 L618.43,473.79 L619.84,472.96 L621.1,473.46 L622.25,473.1 L623.35,473.91 L624.46,472.35 L625.59,473.24 L626.7,472.15 L627.77,471.8 L628.79,471.55 L629.74,470.49 L630.61,470 L631.42,468.8 L632.17,466.34 L632.87,464.7 L633.51,463.63 L634.08,461.24 L634.59,459.58 L635.04,457.85 L635.48,455.96 L635.92,456.86 L636.34,455.48 L636.71,457.59 L637.08,458.24 L637.51,460.22 L638.03,460.9 L638.66,462.13 L639.35,464.93 L640.11,466.56 L640.92,468.76 L641.8,470.38 L642.68,471.14 L643.55,471.55 L644.52,471.37 L645.66,471.89 L647.08,470.95 L648.92,472.46 L651.14,472.13 L653.48,473.81 L655.73,474.2 L657.63,472.61 L659.17,474.32 L660.51,474.72 L661.68,474.71 L662.72,476.07 L663.66,475.64 L664.46,474.67 L665.08,475.13 L665.62,474.63 L666.12,474.23 L666.68,473.04 L667.33,473.94 L668.03,473.9 L668.7,472.72 L669.28,472.98 L669.69,473.3" fill="none" stroke="#2f46ae" stroke-width="1.55" stroke-linejoin="round"/></g><rect x="413.4" y="280.6" width="256" height="196.6" fill="none" stroke="#1f1f1f" stroke-width="1.3"/><line x1="428.48" y1="477.2" x2="428.48" y2="481.2" stroke="#1f1f1f" stroke-width="1.2" /><text x="428.48" y="499.5" font-size="18.5" text-anchor="middle" fill="#1a1a1a" >280</text><line x1="488.78" y1="477.2" x2="488.78" y2="481.2" stroke="#1f1f1f" stroke-width="1.2" /><text x="488.78" y="499.5" font-size="18.5" text-anchor="middle" fill="#1a1a1a" >320</text><line x1="549.08" y1="477.2" x2="549.08" y2="481.2" stroke="#1f1f1f" stroke-width="1.2" /><text x="549.08" y="499.5" font-size="18.5" text-anchor="middle" fill="#1a1a1a" >360</text><line x1="609.39" y1="477.2" x2="609.39" y2="481.2" stroke="#1f1f1f" stroke-width="1.2" /><text x="609.39" y="499.5" font-size="18.5" text-anchor="middle" fill="#1a1a1a" >400</text><line x1="669.69" y1="477.2" x2="669.69" y2="481.2" stroke="#1f1f1f" stroke-width="1.2" /><text x="669.69" y="499.5" font-size="18.5" text-anchor="middle" fill="#1a1a1a" >440</text><line x1="458.63" y1="477.2" x2="458.63" y2="479.4" stroke="#1f1f1f" stroke-width="1.1" /><line x1="518.93" y1="477.2" x2="518.93" y2="479.4" stroke="#1f1f1f" stroke-width="1.1" /><line x1="579.24" y1="477.2" x2="579.24" y2="479.4" stroke="#1f1f1f" stroke-width="1.1" /><line x1="639.54" y1="477.2" x2="639.54" y2="479.4" stroke="#1f1f1f" stroke-width="1.1" /><line x1="409.4" y1="477.2" x2="413.4" y2="477.2" stroke="#1f1f1f" stroke-width="1.2" /><text x="407.2" y="483.7" font-size="19.5" text-anchor="end" fill="#1a1a1a" >0</text><line x1="409.4" y1="434.4" x2="413.4" y2="434.4" stroke="#1f1f1f" stroke-width="1.2" /><text x="407.2" y="440.9" font-size="19.5" text-anchor="end" fill="#1a1a1a" >500</text><line x1="409.4" y1="391.6" x2="413.4" y2="391.6" stroke="#1f1f1f" stroke-width="1.2" /><text x="407.2" y="398.1" font-size="19.5" text-anchor="end" fill="#1a1a1a" >1000</text><line x1="409.4" y1="348.8" x2="413.4" y2="348.8" stroke="#1f1f1f" stroke-width="1.2" /><text x="407.2" y="355.3" font-size="19.5" text-anchor="end" fill="#1a1a1a" >1500</text><line x1="409.4" y1="306" x2="413.4" y2="306" stroke="#1f1f1f" stroke-width="1.2" /><text x="407.2" y="312.5" font-size="19.5" text-anchor="end" fill="#1a1a1a" >2000</text><line x1="411.2" y1="455.8" x2="413.4" y2="455.8" stroke="#1f1f1f" stroke-width="1.1" /><line x1="411.2" y1="413" x2="413.4" y2="413" stroke="#1f1f1f" stroke-width="1.1" /><line x1="411.2" y1="370.2" x2="413.4" y2="370.2" stroke="#1f1f1f" stroke-width="1.1" /><line x1="411.2" y1="327.4" x2="413.4" y2="327.4" stroke="#1f1f1f" stroke-width="1.1" /><line x1="411.2" y1="284.6" x2="413.4" y2="284.6" stroke="#1f1f1f" stroke-width="1.1" /><text x="0" y="0" font-size="20" fill="#1a1a1a" textLength="118.61" lengthAdjust="spacingAndGlyphs" transform="translate(352.8,433.7) rotate(-90)">Intensity (a.u.)</text><text x="463.7" y="521.1" font-size="20" fill="#1a1a1a" textLength="137.7" lengthAdjust="spacingAndGlyphs">Raman Shift (cm</text><text x="602.6" y="514.5" font-size="13" fill="#1a1a1a" textLength="8.2" lengthAdjust="spacingAndGlyphs">-1</text><text x="613.8" y="521.1" font-size="20" fill="#1a1a1a" textLength="6.2" lengthAdjust="spacingAndGlyphs">)</text><text x="415" y="435.4" font-size="12" fill="#2a2a2a" textLength="53.5" lengthAdjust="spacingAndGlyphs">2LA(M)-2E</text><text x="469.1" y="431" font-size="8" fill="#2a2a2a" textLength="2.7" lengthAdjust="spacingAndGlyphs">2</text><text x="469" y="438.3" font-size="8" fill="#2a2a2a" textLength="7.4" lengthAdjust="spacingAndGlyphs">2g</text><text x="477" y="435.4" font-size="12" fill="#2a2a2a" textLength="12.9" lengthAdjust="spacingAndGlyphs">(Γ)</text><text x="433.1" y="412.1" font-size="12" fill="#2a2a2a" textLength="49.6" lengthAdjust="spacingAndGlyphs">2LA(M)-E</text><text x="482.9" y="407.8" font-size="8" fill="#2a2a2a" textLength="2.7" lengthAdjust="spacingAndGlyphs">2</text><text x="482.7" y="415" font-size="8" fill="#2a2a2a" textLength="5.2" lengthAdjust="spacingAndGlyphs">2g</text><text x="488.6" y="412.1" font-size="12" fill="#2a2a2a" textLength="13.1" lengthAdjust="spacingAndGlyphs">(Γ)</text><text x="491.9" y="392.8" font-size="12" fill="#2a2a2a" textLength="5.9" lengthAdjust="spacingAndGlyphs">E</text><text x="498.4" y="388.2" font-size="8" fill="#2a2a2a" textLength="2" lengthAdjust="spacingAndGlyphs">1</text><text x="498" y="395.8" font-size="8" fill="#2a2a2a" textLength="7" lengthAdjust="spacingAndGlyphs">2g</text><text x="503.2" y="392.8" font-size="12" fill="#2a2a2a" textLength="18.2" lengthAdjust="spacingAndGlyphs">(M)</text><text x="542.9" y="329.4" font-size="12" fill="#2a2a2a" textLength="37.6" lengthAdjust="spacingAndGlyphs">2LA(M)</text><text x="552.5" y="411.2" font-size="12" fill="#2a2a2a" textLength="6.3" lengthAdjust="spacingAndGlyphs">E</text><text x="558.8" y="406.6" font-size="8" fill="#2a2a2a" textLength="2.2" lengthAdjust="spacingAndGlyphs">1</text><text x="559.1" y="414.2" font-size="8" fill="#2a2a2a" textLength="7.4" lengthAdjust="spacingAndGlyphs">2g</text><text x="566.7" y="411.2" font-size="12" fill="#2a2a2a" textLength="13.7" lengthAdjust="spacingAndGlyphs">(Γ)</text><text x="624" y="447.8" font-size="12" fill="#2a2a2a" textLength="7.9" lengthAdjust="spacingAndGlyphs">A</text><text x="631.9" y="451.5" font-size="8" fill="#2a2a2a" textLength="7.2" lengthAdjust="spacingAndGlyphs">1g</text><text x="639.1" y="447.8" font-size="12" fill="#2a2a2a" textLength="13.7" lengthAdjust="spacingAndGlyphs">(Γ)</text><line x1="446.3" y1="441.8" x2="448.9" y2="456.3" stroke="#3a3a3a" stroke-width="0.8" /><path d="M448.9,456.3 L446.33,452.19 L448.26,452.76 L449.88,451.55 Z" fill="#2a2a2a"/><line x1="492.8" y1="416" x2="492.8" y2="451" stroke="#3a3a3a" stroke-width="0.8" /><path d="M492.8,451 L491,446.5 L492.8,447.4 L494.6,446.5 Z" fill="#2a2a2a"/><line x1="511.5" y1="400.4" x2="519.8" y2="447.1" stroke="#3a3a3a" stroke-width="0.8" /><path d="M519.8,447.1 L517.24,442.98 L519.17,443.56 L520.78,442.35 Z" fill="#2a2a2a"/><line x1="545.7" y1="333.4" x2="533.3" y2="349.8" stroke="#3a3a3a" stroke-width="0.8" /><path d="M533.3,349.8 L534.58,345.12 L535.47,346.93 L537.45,347.3 Z" fill="#2a2a2a"/><line x1="553.4" y1="415.6" x2="541" y2="429.8" stroke="#3a3a3a" stroke-width="0.8" /><path d="M541,429.8 L542.6,425.23 L543.37,427.09 L545.32,427.59 Z" fill="#2a2a2a"/><text x="1.3" y="567.5" font-size="24.5" fill="#1a1a1a" textLength="25.8" lengthAdjust="spacingAndGlyphs">(e)</text><g clip-path="url(#clipE)"><path d="M50,706.6 L50.16,706.31 L50.28,706.86 L50.48,707.19 L50.85,707.43 L51.52,706.62 L52.6,705.72 L54.13,704.74 L56.05,704.39 L58.26,703.52 L60.67,701.43 L63.22,699.21 L65.8,697.92 L68.6,697.75 L71.71,695.51 L74.94,692.97 L78.11,692.21 L81.03,690.15 L83.5,688.99 L85.44,687.76 L86.99,686.45 L88.28,685.93 L89.46,684.48 L90.65,683.01 L92,682.2 L93.5,681.03 L95.03,678.39 L96.58,677.62 L98.14,675.71 L99.68,674.48 L101.2,672.16 L102.66,670.89 L104.08,668.78 L105.49,666.47 L106.92,663.88 L108.41,661.98 L110,659.45 L111.65,657.32 L113.33,656.25 L115.07,653.73 L116.9,652.86 L118.87,650.32 L121,646.2 L123.43,643.84 L126.16,638.98 L129.02,635.07 L131.84,630.66 L134.46,625.67 L136.7,623.38 L138.5,621.1 L139.97,620.04 L141.24,617.74 L142.42,617.73 L143.63,615.93 L145,615.33 L146.54,614 L148.15,614.11 L149.8,612.72 L151.44,612.83 L153.02,611.27 L154.5,610.92 L155.88,610.7 L157.2,609.97 L158.46,610.4 L159.67,611.39 L160.85,610.89 L162,611.59 L163.09,611.98 L164.1,612.89 L165.08,613.09 L166.06,613.95 L167.09,614.93 L168.2,615.65 L169.41,615.96 L170.67,617.64 L171.99,617.38 L173.33,618.33 L174.67,619.27 L176,621.48 L177.34,622.04 L178.73,623.08 L180.11,624.43 L181.47,626.68 L182.78,627.43 L184,628.76 L185.14,631.1 L186.23,631.56 L187.26,633.37 L188.23,634.94 L189.14,636.2 L190,637.97 L190.78,640.41 L191.49,641.37 L192.13,642.96 L192.74,644.63 L193.32,647.3 L193.9,648.92 L194.47,650.76 L195,651.81 L195.52,653.14 L196.02,654.27 L196.51,655.58 L197,657.08 L197.49,658.03 L197.98,659.57 L198.46,661.7 L198.92,662.05 L199.37,661.78 L199.8,663.77 L200.19,662.88 L200.55,661.6 L200.89,661.58 L201.24,660.04 L201.6,658.63 L202,657.68 L202.42,656.68 L202.85,656.36 L203.29,656.03 L203.77,654.5 L204.3,654.07 L204.9,654.04 L205.58,651.69 L206.34,651.57 L207.16,650.46 L207.99,649.36 L208.81,648.84 L209.6,649.09 L210.29,649.29 L210.9,648.92 L211.51,649.52 L212.17,650.4 L212.98,651.01 L214,652.43 L215.25,653.81 L216.68,655.83 L218.25,658.79 L219.92,660.6 L221.65,662.75 L223.4,665.25 L225.2,666.51 L227.09,668.85 L229.03,671.43 L231.01,673.36 L233.01,675.8 L235,677.01 L237,678.25 L239.04,681.96 L241.09,683.52 L243.14,684.38 L245.15,687.45 L247.1,688.52 L248.97,689.2 L250.76,691.39 L252.51,692.76 L254.28,695.16 L256.09,695.29 L258,696.87 L260.05,698.18 L262.23,699.43 L264.45,700.43 L266.65,702.21 L268.76,703.79 L270.7,704.61 L272.43,704.78 L274.01,705.51 L275.49,706.92 L276.94,707.23 L278.43,707.97 L280,708.16 L281.68,710.7 L283.41,710.9 L285.18,710.65 L286.95,712.26 L288.7,713.1 L290.4,711.81 L292.02,713.23 L293.57,713.75 L295.09,714.66 L296.64,714.65 L298.26,714.98 L300,715.47 L301.97,716.88 L304.15,717.52 L306.41,716.67 L308.58,716.93 L310.53,719.14 L312.1,717.61 L313.27,718.01 L314.15,718.43 L314.81,718.7 L315.29,718.99 L315.67,718.68 L316,718.06" fill="none" stroke="#3549ae" stroke-width="2.6" stroke-linejoin="round"/><path d="M50,699.5 L50.17,699.43 L50.31,699.37 L50.53,699.29 L50.91,699.13 L51.57,698.84 L52.6,698.4 L54.03,697.82 L55.78,697.15 L57.81,696.36 L60.05,695.42 L62.47,694.31 L65,693 L67.75,691.46 L70.79,689.7 L73.99,687.76 L77.26,685.7 L80.46,683.57 L83.5,681.4 L86.31,679.25 L88.98,677.08 L91.59,674.84 L94.24,672.45 L97.01,669.86 L100,667 L103.3,663.78 L106.86,660.23 L110.55,656.48 L114.23,652.64 L117.75,648.84 L121,645.2 L123.95,641.61 L126.71,637.94 L129.33,634.32 L131.84,630.83 L134.28,627.59 L136.7,624.7 L139.07,622.14 L141.35,619.84 L143.56,617.78 L145.73,615.95 L147.87,614.36 L150,613 L152.14,611.9 L154.27,611.07 L156.38,610.48 L158.43,610.07 L160.41,609.83 L162.3,609.7 L164.04,609.63 L165.64,609.64 L167.17,609.8 L168.69,610.2 L170.28,610.9 L172,612 L173.91,613.59 L175.98,615.63 L178.11,617.99 L180.21,620.51 L182.2,623.06 L184,625.5 L185.57,627.83 L186.97,630.17 L188.26,632.53 L189.5,634.94 L190.72,637.43 L192,640 L193.34,642.91 L194.71,646.19 L196.07,649.53 L197.4,652.65 L198.65,655.24 L199.8,657 L200.8,657.77 L201.67,657.74 L202.48,657.19 L203.26,656.37 L204.08,655.55 L205,655 L206.02,654.57 L207.1,654.04 L208.22,653.5 L209.36,653.07 L210.5,652.87 L211.6,653 L212.64,653.49 L213.64,654.27 L214.62,655.26 L215.65,656.42 L216.76,657.69 L218,659 L219.3,660.35 L220.61,661.79 L222,663.33 L223.55,664.99 L225.32,666.81 L227.4,668.8 L229.77,671.01 L232.36,673.42 L235.18,675.99 L238.23,678.64 L241.5,681.33 L245,684 L248.89,686.74 L253.2,689.63 L257.74,692.55 L262.31,695.39 L266.69,698.05 L270.7,700.4 L274.21,702.42 L277.36,704.19 L280.33,705.77 L283.31,707.23 L286.47,708.62 L290,710 L294.25,711.42 L299.13,712.84 L304.21,714.2 L309.01,715.42 L313.09,716.44 L316,717.2" fill="none" stroke="#e8262a" stroke-width="2.1" stroke-dasharray="4.4 3"/></g><rect x="52.5" y="553.4" width="261.2" height="188.2" fill="none" stroke="#1f1f1f" stroke-width="1.3"/><line x1="64.3" y1="741.6" x2="64.3" y2="745.6" stroke="#1f1f1f" stroke-width="1.2" /><text x="64.3" y="763.4" font-size="20.3" text-anchor="middle" fill="#1a1a1a" >500</text><line x1="120.88" y1="741.6" x2="120.88" y2="745.6" stroke="#1f1f1f" stroke-width="1.2" /><text x="120.88" y="763.4" font-size="20.3" text-anchor="middle" fill="#1a1a1a" >550</text><line x1="177.45" y1="741.6" x2="177.45" y2="745.6" stroke="#1f1f1f" stroke-width="1.2" /><text x="177.45" y="763.4" font-size="20.3" text-anchor="middle" fill="#1a1a1a" >600</text><line x1="234.02" y1="741.6" x2="234.02" y2="745.6" stroke="#1f1f1f" stroke-width="1.2" /><text x="234.02" y="763.4" font-size="20.3" text-anchor="middle" fill="#1a1a1a" >650</text><line x1="290.6" y1="741.6" x2="290.6" y2="745.6" stroke="#1f1f1f" stroke-width="1.2" /><text x="290.6" y="763.4" font-size="20.3" text-anchor="middle" fill="#1a1a1a" >700</text><line x1="92.59" y1="741.6" x2="92.59" y2="743.8" stroke="#1f1f1f" stroke-width="1.1" /><line x1="149.16" y1="741.6" x2="149.16" y2="743.8" stroke="#1f1f1f" stroke-width="1.1" /><line x1="205.74" y1="741.6" x2="205.74" y2="743.8" stroke="#1f1f1f" stroke-width="1.1" /><line x1="262.31" y1="741.6" x2="262.31" y2="743.8" stroke="#1f1f1f" stroke-width="1.1" /><line x1="48.5" y1="586.3" x2="52.5" y2="586.3" stroke="#1f1f1f" stroke-width="1.2" /><line x1="48.5" y1="625.3" x2="52.5" y2="625.3" stroke="#1f1f1f" stroke-width="1.2" /><line x1="48.5" y1="663.7" x2="52.5" y2="663.7" stroke="#1f1f1f" stroke-width="1.2" /><line x1="48.5" y1="702.7" x2="52.5" y2="702.7" stroke="#1f1f1f" stroke-width="1.2" /><line x1="50.3" y1="566.6" x2="52.5" y2="566.6" stroke="#1f1f1f" stroke-width="1.1" /><line x1="50.3" y1="606.1" x2="52.5" y2="606.1" stroke="#1f1f1f" stroke-width="1.1" /><line x1="50.3" y1="644.4" x2="52.5" y2="644.4" stroke="#1f1f1f" stroke-width="1.1" /><line x1="50.3" y1="683.6" x2="52.5" y2="683.6" stroke="#1f1f1f" stroke-width="1.1" /><line x1="50.3" y1="722" x2="52.5" y2="722" stroke="#1f1f1f" stroke-width="1.1" /><text x="0" y="0" font-size="20" fill="#1a1a1a" textLength="138.5" lengthAdjust="spacingAndGlyphs" transform="translate(33.4,716.6) rotate(-90)">Scattering (a.u.)</text><text x="108.7" y="780.3" font-size="20" fill="#1a1a1a" textLength="150.1" lengthAdjust="spacingAndGlyphs">Wavelength (nm)</text><line x1="56.7" y1="564.6" x2="91.7" y2="564.6" stroke="#3549ae" stroke-width="2.5" /><text x="95.9" y="569.9" font-size="14.7" fill="#1a1a1a" textLength="69.4" lengthAdjust="spacingAndGlyphs">Experiment</text><line x1="56.7" y1="583" x2="91.7" y2="583" stroke="#e8262a" stroke-width="2.1" stroke-dasharray="4.3 3.15"/><text x="95.9" y="588.3" font-size="14.7" fill="#1a1a1a" textLength="41.7" lengthAdjust="spacingAndGlyphs">Theory</text><text x="337.3" y="567.7" font-size="24.5" fill="#1a1a1a" textLength="22.7" lengthAdjust="spacingAndGlyphs">(f)</text><g clip-path="url(#clipF)"><path d="M412.8,738.2 L500,738 L664.6,738.2" fill="none" stroke="#2a9a44" stroke-width="1.3"/><path d="M412.8,737.5 L416.73,737.46 L422.42,737.41 L428.87,737.34 L435.06,737.27 L440,737.2 L443.52,737.15 L446.29,737.13 L448.56,737.09 L450.58,736.99 L452.6,736.8 L454.58,736.52 L456.36,736.18 L457.99,735.77 L459.52,735.28 L461,734.7 L462.44,733.96 L463.8,733.07 L465.07,732.13 L466.24,731.24 L467.3,730.5 L468.21,729.88 L468.97,729.31 L469.65,728.84 L470.31,728.52 L471,728.4 L471.7,728.53 L472.37,728.87 L473.05,729.35 L473.78,729.92 L474.6,730.5 L475.45,731.15 L476.31,731.9 L477.26,732.7 L478.4,733.45 L479.8,734.1 L481.53,734.64 L483.52,735.12 L485.69,735.54 L487.98,735.9 L490.3,736.2 L492.29,736.41 L494.01,736.53 L496,736.61 L498.78,736.68 L502.9,736.8 L507.35,736.97 L511.78,737.17 L517.68,737.37 L526.59,737.55 L540,737.7 L561.31,737.8 L589.52,737.88 L619.53,737.93 L646.25,737.97 L664.6,738" fill="none" stroke="#3a52b4" stroke-width="1.3"/><path d="M412.8,737.7 L416.8,737.58 L422.62,737.42 L429.17,737.22 L435.33,737.01 L440,736.8 L442.88,736.63 L444.71,736.49 L445.94,736.31 L447.02,736.04 L448.4,735.6 L450.11,734.99 L451.86,734.26 L453.59,733.4 L455.25,732.45 L456.8,731.4 L458.21,730.35 L459.52,729.28 L460.76,728.08 L461.94,726.59 L463.1,724.7 L464.23,722.34 L465.31,719.6 L466.34,716.57 L467.34,713.34 L468.3,710 L469.22,706.55 L470.1,702.94 L470.95,699.16 L471.75,695.21 L472.5,691.1 L473.21,686.8 L473.87,682.3 L474.48,677.66 L475.06,672.91 L475.6,668.1 L476.08,663.2 L476.51,658.18 L476.91,653.09 L477.3,647.98 L477.7,642.9 L478.12,637.82 L478.54,632.71 L478.96,627.62 L479.38,622.6 L479.8,617.7 L480.24,612.66 L480.69,607.44 L481.13,602.44 L481.54,598.06 L481.9,594.7 L482.18,592.54 L482.4,591.32 L482.59,590.75 L482.78,590.57 L483,590.5 L483.25,590.42 L483.5,590.51 L483.78,590.95 L484.07,591.92 L484.4,593.6 L484.76,596.2 L485.16,599.61 L485.58,603.5 L486.02,607.53 L486.5,611.4 L487.01,615.14 L487.56,618.98 L488.12,622.84 L488.71,626.64 L489.3,630.3 L489.9,633.96 L490.51,637.68 L491.14,641.24 L491.77,644.45 L492.4,647.1 L493.05,649.07 L493.73,650.48 L494.39,651.54 L495.03,652.44 L495.6,653.4 L496.07,654.39 L496.47,655.28 L496.84,656.1 L497.23,656.86 L497.7,657.6 L498.27,658.26 L498.92,658.81 L499.58,659.35 L500.23,659.96 L500.8,660.7 L501.25,661.5 L501.61,662.32 L501.96,663.26 L502.36,664.44 L502.9,666 L503.59,668 L504.38,670.38 L505.25,673 L506.16,675.74 L507.1,678.5 L508.07,681.32 L509.1,684.27 L510.16,687.29 L511.24,690.3 L512.3,693.2 L513.34,696.04 L514.36,698.87 L515.4,701.64 L516.47,704.3 L517.6,706.8 L518.76,709.15 L519.95,711.37 L521.19,713.47 L522.5,715.45 L523.9,717.3 L525.44,719.01 L527.1,720.59 L528.82,722.05 L530.54,723.41 L532.2,724.7 L533.85,725.93 L535.54,727.08 L537.18,728.13 L538.7,729.08 L540,729.9 L540.85,730.53 L541.31,730.98 L541.74,731.35 L542.48,731.72 L543.9,732.2 L546.08,732.82 L548.77,733.53 L551.86,734.26 L555.24,734.94 L558.8,735.5 L562.5,735.93 L566.4,736.27 L570.58,736.55 L575.1,736.79 L580,737 L585.04,737.18 L590.19,737.31 L595.81,737.42 L602.28,737.51 L610,737.6 L620.22,737.7 L632.69,737.79 L645.51,737.88 L656.78,737.95 L664.6,738" fill="none" stroke="#e8262a" stroke-width="1.3"/></g><rect x="413" y="554.5" width="251.5" height="184.5" fill="none" stroke="#1f1f1f" stroke-width="1.3"/><line x1="448.6" y1="739" x2="448.6" y2="743" stroke="#1f1f1f" stroke-width="1.2" /><text x="448.6" y="760.3" font-size="19.7" text-anchor="middle" fill="#1a1a1a" >600</text><line x1="520.7" y1="739" x2="520.7" y2="743" stroke="#1f1f1f" stroke-width="1.2" /><text x="520.7" y="760.3" font-size="19.7" text-anchor="middle" fill="#1a1a1a" >650</text><line x1="592.8" y1="739" x2="592.8" y2="743" stroke="#1f1f1f" stroke-width="1.2" /><text x="592.8" y="760.3" font-size="19.7" text-anchor="middle" fill="#1a1a1a" >700</text><line x1="664.9" y1="739" x2="664.9" y2="743" stroke="#1f1f1f" stroke-width="1.2" /><text x="664.9" y="760.3" font-size="19.7" text-anchor="middle" fill="#1a1a1a" >750</text><line x1="412.55" y1="739" x2="412.55" y2="741.2" stroke="#1f1f1f" stroke-width="1.1" /><line x1="484.65" y1="739" x2="484.65" y2="741.2" stroke="#1f1f1f" stroke-width="1.1" /><line x1="556.75" y1="739" x2="556.75" y2="741.2" stroke="#1f1f1f" stroke-width="1.1" /><line x1="628.85" y1="739" x2="628.85" y2="741.2" stroke="#1f1f1f" stroke-width="1.1" /><line x1="409" y1="738.8" x2="413" y2="738.8" stroke="#1f1f1f" stroke-width="1.2" /><text x="407.7" y="745.4" font-size="19.7" text-anchor="end" fill="#1a1a1a" >0</text><line x1="409" y1="702.1" x2="413" y2="702.1" stroke="#1f1f1f" stroke-width="1.2" /><text x="407.7" y="708.7" font-size="19.7" text-anchor="end" fill="#1a1a1a" >1000</text><line x1="409" y1="665.4" x2="413" y2="665.4" stroke="#1f1f1f" stroke-width="1.2" /><text x="407.7" y="672" font-size="19.7" text-anchor="end" fill="#1a1a1a" >2000</text><line x1="409" y1="628.7" x2="413" y2="628.7" stroke="#1f1f1f" stroke-width="1.2" /><text x="407.7" y="635.3" font-size="19.7" text-anchor="end" fill="#1a1a1a" >3000</text><line x1="409" y1="592" x2="413" y2="592" stroke="#1f1f1f" stroke-width="1.2" /><text x="407.7" y="598.6" font-size="19.7" text-anchor="end" fill="#1a1a1a" >4000</text><line x1="409" y1="555.3" x2="413" y2="555.3" stroke="#1f1f1f" stroke-width="1.2" /><text x="407.7" y="561.9" font-size="19.7" text-anchor="end" fill="#1a1a1a" >5000</text><line x1="410.8" y1="720.45" x2="413" y2="720.45" stroke="#1f1f1f" stroke-width="1.1" /><line x1="410.8" y1="683.75" x2="413" y2="683.75" stroke="#1f1f1f" stroke-width="1.1" /><line x1="410.8" y1="647.05" x2="413" y2="647.05" stroke="#1f1f1f" stroke-width="1.1" /><line x1="410.8" y1="610.35" x2="413" y2="610.35" stroke="#1f1f1f" stroke-width="1.1" /><line x1="410.8" y1="573.65" x2="413" y2="573.65" stroke="#1f1f1f" stroke-width="1.1" /><text x="0" y="0" font-size="20" fill="#1a1a1a" textLength="101.69" lengthAdjust="spacingAndGlyphs" transform="translate(359.8,695.7) rotate(-90)">PL (counts)</text><text x="462.4" y="779.4" font-size="20" fill="#1a1a1a" textLength="153.9" lengthAdjust="spacingAndGlyphs">Wavelength (nm)</text><line x1="509.2" y1="565" x2="539.4" y2="565" stroke="#2a9a44" stroke-width="1.4" /><line x1="509.2" y1="581.5" x2="539.4" y2="581.5" stroke="#3a52b4" stroke-width="1.4" /><line x1="509.2" y1="602.5" x2="539.4" y2="602.5" stroke="#e8262a" stroke-width="1.4" /><text x="543.9" y="569.9" font-size="13.4" fill="#1a1a1a" textLength="11.9" lengthAdjust="spacingAndGlyphs">TI</text><text x="543.9" y="586.5" font-size="13.4" fill="#1a1a1a" textLength="19.2" lengthAdjust="spacingAndGlyphs">WS</text><text x="563.7" y="590.9" font-size="9.5" fill="#1a1a1a" textLength="4.3" lengthAdjust="spacingAndGlyphs">2</text><text x="568" y="586.5" font-size="13.4" fill="#1a1a1a" textLength="15.8" lengthAdjust="spacingAndGlyphs">/TI</text><text x="543.9" y="607.2" font-size="13.4" fill="#1a1a1a" textLength="19.2" lengthAdjust="spacingAndGlyphs">WS</text><text x="563.7" y="611.4" font-size="9.5" fill="#1a1a1a" textLength="4.3" lengthAdjust="spacingAndGlyphs">2</text><text x="568" y="607.2" font-size="13.4" fill="#1a1a1a" textLength="85.5" lengthAdjust="spacingAndGlyphs">/TI metasurface</text><g transform="translate(538.3,623.1)"><g clip-path="url(#clipInset)"><rect x="0" y="0" width="117" height="72" fill="#050303"/><g filter="url(#blur25)"><path d="M-5,-5 L71,-5 L67,36 L61,77 L-5,77 Z" fill="#3a0808"/><path d="M-5,-5 L66,-5 L63,36 L57,77 L-5,77 Z" fill="#621210"/><path d="M-5,-5 L60,-5 L58,36 L50,77 L-5,77 Z" fill="#a82a1c"/><path d="M-5,-5 L56,-5 L53,36 L34,77 L-5,77 Z" fill="#de8238"/><path d="M-5,-5 L51.5,-5 L51,25 L46.5,34.5 L37,41.5 L25,51 L16,60 L11,77 L-5,77 Z" fill="#f0f27a"/></g><ellipse cx="3" cy="3" rx="8" ry="6" fill="#e8b050" opacity="0.5" filter="url(#blur3)"/><line x1="86" y1="60" x2="97" y2="60" stroke="#ffffff" stroke-width="1.5" /></g></g><rect x="558.4" y="702.3" width="74.6" height="7.5" fill="url(#cbar)"/><text x="529.8" y="718.6" font-size="14" fill="#1a1a1a" textLength="21.6" lengthAdjust="spacingAndGlyphs">Min</text><text x="636" y="718.2" font-size="14" fill="#1a1a1a" textLength="24.2" lengthAdjust="spacingAndGlyphs">Max</text>
</svg></body></html>
